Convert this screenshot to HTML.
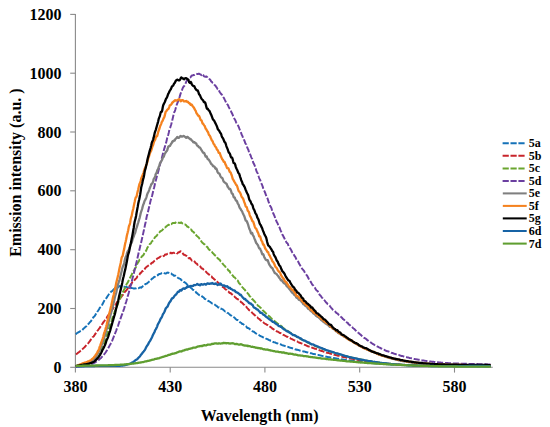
<!DOCTYPE html>
<html><head><meta charset="utf-8"><title>Emission spectra</title>
<style>html,body{margin:0;padding:0;background:#fff;overflow:hidden}body{width:550px;height:427px;position:relative}</style></head>
<body>
<svg width="550" height="427" viewBox="0 0 550 427" style="position:absolute;left:0;top:0">
<rect width="550" height="427" fill="#fff"/>
<g stroke="#8a8a8a" stroke-width="1.1" fill="none">
<line x1="75.4" y1="13.9" x2="75.4" y2="372.6"/>
<line x1="70.2" y1="367.3" x2="75.4" y2="367.3"/>
<line x1="70.2" y1="308.5" x2="75.4" y2="308.5"/>
<line x1="70.2" y1="249.7" x2="75.4" y2="249.7"/>
<line x1="70.2" y1="190.8" x2="75.4" y2="190.8"/>
<line x1="70.2" y1="132.0" x2="75.4" y2="132.0"/>
<line x1="70.2" y1="73.2" x2="75.4" y2="73.2"/>
<line x1="70.2" y1="14.4" x2="75.4" y2="14.4"/>
<line x1="75.4" y1="367.3" x2="492.8" y2="367.3"/>
<line x1="170.2" y1="367.3" x2="170.2" y2="372.6"/>
<line x1="264.9" y1="367.3" x2="264.9" y2="372.6"/>
<line x1="359.7" y1="367.3" x2="359.7" y2="372.6"/>
<line x1="454.5" y1="367.3" x2="454.5" y2="372.6"/>
</g>
<path d="M75.7,334.21 L76.2,333.87 L76.7,333.37 L77.2,332.93 L77.7,332.71 L78.2,332.51 L78.7,332.20 L79.2,331.88 L79.7,331.56 L80.2,331.16 L80.7,330.82 L81.2,330.68 L81.7,330.50 L82.2,330.12 L82.7,329.55 L83.2,328.97 L83.7,328.44 L84.2,328.03 L84.7,327.70 L85.2,327.13 L85.7,326.56 L86.2,326.30 L86.7,326.00 L87.2,325.34 L87.7,324.57 L88.2,324.07 L88.7,323.65 L89.2,323.02 L89.7,322.33 L90.2,321.83 L90.7,321.48 L91.2,320.87 L91.7,319.90 L92.2,319.09 L92.7,318.32 L93.2,317.50 L93.7,316.91 L94.2,316.48 L94.7,316.00 L95.2,315.14 L95.7,314.26 L96.2,313.69 L96.7,312.86 L97.2,311.89 L97.7,311.20 L98.2,310.50 L98.7,309.74 L99.2,308.89 L99.7,307.95 L100.2,307.40 L100.7,306.98 L101.2,306.28 L101.7,305.51 L102.2,304.77 L102.7,303.80 L103.2,302.73 L103.7,301.81 L104.2,300.82 L104.7,299.89 L105.2,299.27 L105.7,298.97 L106.2,298.41 L106.7,297.60 L107.2,296.88 L107.7,295.97 L108.2,295.21 L108.7,294.51 L109.2,293.77 L109.7,293.48 L110.2,293.04 L110.7,292.22 L111.2,291.66 L111.7,291.32 L112.2,290.99 L112.7,290.50 L113.2,289.98 L113.7,289.56 L114.2,288.95 L114.7,288.53 L115.2,288.35 L115.7,287.96 L116.2,287.80 L116.7,287.68 L117.2,287.33 L117.7,287.32 L118.2,287.37 L118.7,287.01 L119.2,286.38 L119.7,285.97 L120.2,286.15 L120.7,286.40 L121.2,286.38 L121.7,286.42 L122.2,286.55 L122.7,286.56 L123.2,286.66 L123.7,286.75 L124.2,286.62 L124.7,286.89 L125.2,287.40 L125.7,287.23 L126.2,286.84 L126.7,287.02 L127.2,287.45 L127.7,287.63 L128.2,287.49 L128.7,287.31 L129.2,287.43 L129.7,287.76 L130.2,287.84 L130.7,287.75 L131.2,287.80 L131.7,287.98 L132.2,288.12 L132.7,288.14 L133.2,288.33 L133.7,288.55 L134.2,288.41 L134.7,288.35 L135.2,288.47 L135.7,288.39 L136.2,288.27 L136.7,288.01 L137.2,287.84 L137.7,288.10 L138.2,288.20 L138.7,288.07 L139.2,287.88 L139.7,287.57 L140.2,287.35 L140.7,287.50 L141.2,287.68 L141.7,287.28 L142.2,286.73 L142.7,286.43 L143.2,286.02 L143.7,285.73 L144.2,285.52 L144.7,284.88 L145.2,284.19 L145.7,283.95 L146.2,283.85 L146.7,283.68 L147.2,283.30 L147.7,282.72 L148.2,282.36 L148.7,281.95 L149.2,281.46 L149.7,281.14 L150.2,280.58 L150.7,280.01 L151.2,279.60 L151.7,279.02 L152.2,278.62 L152.7,278.38 L153.2,277.93 L153.7,277.40 L154.2,277.03 L154.7,276.84 L155.2,276.53 L155.7,276.01 L156.2,275.65 L156.7,275.25 L157.2,275.15 L157.7,275.37 L158.2,274.78 L158.7,274.23 L159.2,274.24 L159.7,273.98 L160.2,273.90 L160.7,273.85 L161.2,273.43 L161.7,273.17 L162.2,273.11 L162.7,272.92 L163.2,272.58 L163.7,272.56 L164.2,272.97 L164.7,273.31 L165.2,273.47 L165.7,273.56 L166.2,273.32 L166.7,272.99 L167.2,272.75 L167.7,272.54 L168.2,272.64 L168.7,273.00 L169.2,273.45 L169.7,273.68 L170.2,273.57 L170.7,273.45 L171.2,273.55 L171.7,274.00 L172.2,274.47 L172.7,274.62 L173.2,274.90 L173.7,275.54 L174.2,275.77 L174.7,275.57 L175.2,275.60 L175.7,275.92 L176.2,276.32 L176.7,276.69 L177.2,277.12 L177.7,277.62 L178.2,278.09 L178.7,278.28 L179.2,278.36 L179.7,278.59 L180.2,278.79 L180.7,279.30 L181.2,279.94 L181.7,280.34 L182.2,280.74 L182.7,280.94 L183.2,281.29 L183.7,281.82 L184.2,282.12 L184.7,282.41 L185.2,282.69 L185.7,283.02 L186.2,283.42 L186.7,284.02 L187.2,284.69 L187.7,285.17 L188.2,285.33 L188.7,285.30 L189.2,285.90 L189.7,286.64 L190.2,287.10 L190.7,287.68 L191.2,288.07 L191.7,288.33 L192.2,289.06 L192.7,289.79 L193.2,289.94 L193.7,290.03 L194.2,290.36 L194.7,290.68 L195.2,290.97 L195.7,291.74 L196.2,292.67 L196.7,293.02 L197.2,293.24 L197.7,293.77 L198.2,294.23 L198.7,294.59 L199.2,295.04 L199.7,295.28 L200.2,295.53 L200.7,295.71 L201.2,295.60 L201.7,296.00 L202.2,296.58 L202.7,296.87 L203.2,297.20 L203.7,297.53 L204.2,298.15 L204.7,298.93 L205.2,299.13 L205.7,299.26 L206.2,299.64 L206.7,299.91 L207.2,300.26 L207.7,300.70 L208.2,300.93 L208.7,301.00 L209.2,301.38 L209.7,301.66 L210.2,301.89 L210.7,302.31 L211.2,302.70 L211.7,303.19 L212.2,303.54 L212.7,303.72 L213.2,304.01 L213.7,304.16 L214.2,304.21 L214.7,304.55 L215.2,304.99 L215.7,305.36 L216.2,305.75 L216.7,306.01 L217.2,306.36 L217.7,307.05 L218.2,307.45 L218.7,307.37 L219.2,307.52 L219.7,307.98 L220.2,308.54 L220.7,308.78 L221.2,308.66 L221.7,308.77 L222.2,309.06 L222.7,309.29 L223.2,309.69 L223.7,310.17 L224.2,310.63 L224.7,311.23 L225.2,311.52 L225.7,311.48 L226.2,311.69 L226.7,312.26 L227.2,312.78 L227.7,312.87 L228.2,313.05 L228.7,313.62 L229.2,314.07 L229.7,314.48 L230.2,315.00 L230.7,315.34 L231.2,315.53 L231.7,315.77 L232.2,316.15 L232.7,316.40 L233.2,316.63 L233.7,317.07 L234.2,317.46 L234.7,317.84 L235.2,318.39 L235.7,319.05 L236.2,319.47 L236.7,319.81 L237.2,320.07 L237.7,320.05 L238.2,320.27 L238.7,320.96 L239.2,321.59 L239.7,321.99 L240.2,322.42 L240.7,322.70 L241.2,322.87 L241.7,323.44 L242.2,324.00 L242.7,324.04 L243.2,324.17 L243.7,324.67 L244.2,325.19 L244.7,325.58 L245.2,325.90 L245.7,326.16 L246.2,326.49 L246.7,327.15 L247.2,327.79 L247.7,327.98 L248.2,328.07 L248.7,328.27 L249.2,328.53 L249.7,329.07 L250.2,329.52 L250.7,329.81 L251.2,330.24 L251.7,330.69 L252.2,331.06 L252.7,331.35 L253.2,331.51 L253.7,331.63 L254.2,331.95 L254.7,332.44 L255.2,332.87 L255.7,333.27 L256.2,333.60 L256.7,333.75 L257.2,334.01 L257.7,334.37 L258.2,334.67 L258.7,334.95 L259.2,335.26 L259.7,335.60 L260.2,335.87 L260.7,336.14 L261.2,336.44 L261.7,336.65 L262.2,336.78 L262.7,337.04 L263.2,337.33 L263.7,337.65 L264.2,337.90 L264.7,337.95 L265.2,338.06 L265.7,338.39 L266.2,338.66 L266.7,338.84 L267.2,339.09 L267.7,339.28 L268.2,339.49 L268.7,339.83 L269.2,340.11 L269.7,340.27 L270.2,340.47 L270.7,340.72 L271.2,340.81 L271.7,340.88 L272.2,341.21 L272.7,341.62 L273.2,341.98 L273.7,342.24 L274.2,342.33 L274.7,342.35 L275.2,342.47 L275.7,342.74 L276.2,343.05 L276.7,343.22 L277.2,343.28 L277.7,343.49 L278.2,343.82 L278.7,344.04 L279.2,344.09 L279.7,344.12 L280.2,344.26 L280.7,344.44 L281.2,344.67 L281.7,344.96 L282.2,345.20 L282.7,345.37 L283.2,345.49 L283.7,345.58 L284.2,345.71 L284.7,345.87 L285.2,346.08 L285.7,346.31 L286.2,346.34 L286.7,346.37 L287.2,346.57 L287.7,346.72 L288.2,346.83 L288.7,347.08 L289.2,347.43 L289.7,347.63 L290.2,347.70 L290.7,347.89 L291.2,348.03 L291.7,348.05 L292.2,348.20 L292.7,348.40 L293.2,348.50 L293.7,348.57 L294.2,348.80 L294.7,349.10 L295.2,349.34 L295.7,349.45 L296.2,349.54 L296.7,349.72 L297.2,349.78 L297.7,349.81 L298.2,349.99 L298.7,350.16 L299.2,350.30 L299.7,350.47 L300.2,350.65 L300.7,350.74 L301.2,350.85 L301.7,351.03 L302.2,351.14 L302.7,351.26 L303.2,351.43 L303.7,351.50 L304.2,351.56 L304.7,351.66 L305.2,351.77 L305.7,352.00 L306.2,352.22 L306.7,352.28 L307.2,352.34 L307.7,352.44 L308.2,352.63 L308.7,352.88 L309.2,352.99 L309.7,353.02 L310.2,353.11 L310.7,353.20 L311.2,353.29 L311.7,353.41 L312.2,353.56 L312.7,353.76 L313.2,353.92 L313.7,354.02 L314.2,354.06 L314.7,354.13 L315.2,354.26 L315.7,354.41 L316.2,354.59 L316.7,354.74 L317.2,354.83 L317.7,354.84 L318.2,354.92 L318.7,355.14 L319.2,355.27 L319.7,355.28 L320.2,355.43 L320.7,355.58 L321.2,355.66 L321.7,355.80 L322.2,355.85 L322.7,355.93 L323.2,356.11 L323.7,356.19 L324.2,356.26 L324.7,356.34 L325.2,356.43 L325.7,356.58 L326.2,356.67 L326.7,356.74 L327.2,356.85 L327.7,356.98 L328.2,357.08 L328.7,357.14 L329.2,357.25 L329.7,357.32 L330.2,357.38 L330.7,357.47 L331.2,357.54 L331.7,357.66 L332.2,357.81 L332.7,357.92 L333.2,358.02 L333.7,358.08 L334.2,358.07 L334.7,358.11 L335.2,358.25 L335.7,358.40 L336.2,358.47 L336.7,358.56 L337.2,358.64 L337.7,358.66 L338.2,358.74 L338.7,358.93 L339.2,359.08 L339.7,359.10 L340.2,359.12 L340.7,359.24 L341.2,359.36 L341.7,359.42 L342.2,359.44 L342.7,359.50 L343.2,359.61 L343.7,359.73 L344.2,359.86 L344.7,359.93 L345.2,359.91 L345.7,359.95 L346.2,360.04 L346.7,360.13 L347.2,360.22 L347.7,360.30 L348.2,360.38 L348.7,360.46 L349.2,360.48 L349.7,360.48 L350.2,360.53 L350.7,360.61 L351.2,360.67 L351.7,360.75 L352.2,360.87 L352.7,360.95 L353.2,360.99 L353.7,361.02 L354.2,361.06 L354.7,361.18 L355.2,361.27 L355.7,361.29 L356.2,361.37 L356.7,361.47 L357.2,361.52 L357.7,361.57 L358.2,361.63 L358.7,361.67 L359.2,361.76 L359.7,361.83 L360.2,361.83 L360.7,361.88 L361.2,361.97 L361.7,362.07 L362.2,362.13 L362.7,362.16 L363.2,362.16 L363.7,362.20 L364.2,362.29 L364.7,362.34 L365.2,362.37 L365.7,362.44 L366.2,362.52 L366.7,362.56 L367.2,362.59 L367.7,362.63 L368.2,362.67 L368.7,362.72 L369.2,362.80 L369.7,362.91 L370.2,362.98 L370.7,362.98 L371.2,363.00 L371.7,363.04 L372.2,363.06 L372.7,363.10 L373.2,363.16 L373.7,363.24 L374.2,363.30 L374.7,363.30 L375.2,363.33 L375.7,363.40 L376.2,363.43 L376.7,363.46 L377.2,363.49 L377.7,363.51 L378.2,363.57 L378.7,363.64 L379.2,363.67 L379.7,363.69 L380.2,363.72 L380.7,363.77 L381.2,363.81 L381.7,363.84 L382.2,363.87 L382.7,363.93 L383.2,363.98 L383.7,364.00 L384.2,364.04 L384.7,364.09 L385.2,364.12 L385.7,364.13 L386.2,364.14 L386.7,364.17 L387.2,364.22 L387.7,364.26 L388.2,364.29 L388.7,364.31 L389.2,364.33 L389.7,364.37 L390.2,364.41 L390.7,364.43 L391.2,364.46 L391.7,364.48 L392.2,364.50 L392.7,364.54 L393.2,364.59 L393.7,364.61 L394.2,364.62 L394.7,364.64 L395.2,364.67 L395.7,364.72 L396.2,364.74 L396.7,364.74 L397.2,364.76 L397.7,364.79 L398.2,364.81 L398.7,364.83 L399.2,364.87 L399.7,364.90 L400.2,364.91 L400.7,364.94 L401.2,364.98 L401.7,365.00 L402.2,365.02 L402.7,365.06 L403.2,365.07 L403.7,365.07 L404.2,365.10 L404.7,365.11 L405.2,365.13 L405.7,365.15 L406.2,365.17 L406.7,365.20 L407.2,365.22 L407.7,365.24 L408.2,365.25 L408.7,365.27 L409.2,365.28 L409.7,365.29 L410.2,365.32 L410.7,365.34 L411.2,365.36 L411.7,365.39 L412.2,365.41 L412.7,365.42 L413.2,365.42 L413.7,365.44 L414.2,365.45 L414.7,365.46 L415.2,365.48 L415.7,365.48 L416.2,365.48 L416.7,365.50 L417.2,365.52 L417.7,365.54 L418.2,365.56 L418.7,365.57 L419.2,365.58 L419.7,365.59 L420.2,365.59 L420.7,365.61 L421.2,365.63 L421.7,365.63 L422.2,365.64 L422.7,365.65 L423.2,365.67 L423.7,365.68 L424.2,365.69 L424.7,365.70 L425.2,365.71 L425.7,365.72 L426.2,365.72 L426.7,365.73 L427.2,365.75 L427.7,365.76 L428.2,365.77 L428.7,365.78 L429.2,365.79 L429.7,365.79 L430.2,365.80 L430.7,365.81 L431.2,365.82 L431.7,365.83 L432.2,365.83 L432.7,365.84 L433.2,365.85 L433.7,365.85 L434.2,365.86 L434.7,365.87 L435.2,365.87 L435.7,365.88 L436.2,365.89 L436.7,365.89 L437.2,365.90 L437.7,365.91 L438.2,365.91 L438.7,365.91 L439.2,365.92 L439.7,365.92 L440.2,365.93 L440.7,365.94 L441.2,365.94 L441.7,365.94 L442.2,365.95 L442.7,365.95 L443.2,365.96 L443.7,365.96 L444.2,365.97 L444.7,365.97 L445.2,365.98 L445.7,365.98 L446.2,365.98 L446.7,365.99 L447.2,365.99 L447.7,365.99 L448.2,366.00 L448.7,366.00 L449.2,366.01 L449.7,366.01 L450.2,366.01 L450.7,366.01 L451.2,366.02 L451.7,366.02 L452.2,366.02 L452.7,366.03 L453.2,366.03 L453.7,366.03 L454.2,366.04 L454.7,366.04 L455.2,366.04 L455.7,366.04 L456.2,366.05 L456.7,366.05 L457.2,366.05 L457.7,366.05 L458.2,366.06 L458.7,366.06 L459.2,366.06 L459.7,366.06 L460.2,366.07 L460.7,366.07 L461.2,366.07 L461.7,366.07 L462.2,366.07 L462.7,366.08 L463.2,366.08 L463.7,366.08 L464.2,366.08 L464.7,366.09 L465.2,366.09 L465.7,366.09 L466.2,366.09 L466.7,366.09 L467.2,366.10 L467.7,366.10 L468.2,366.10 L468.7,366.10 L469.2,366.11 L469.7,366.11 L470.2,366.11 L470.7,366.11 L471.2,366.12 L471.7,366.12 L472.2,366.12 L472.7,366.12 L473.2,366.13 L473.7,366.13 L474.2,366.13 L474.7,366.13 L475.2,366.14 L475.7,366.14 L476.2,366.14 L476.7,366.15 L477.2,366.15 L477.7,366.15 L478.2,366.16 L478.7,366.16 L479.2,366.16 L479.7,366.17 L480.2,366.17 L480.7,366.17 L481.2,366.18 L481.7,366.18 L482.2,366.19 L482.7,366.19 L483.2,366.19 L483.7,366.20 L484.2,366.20 L484.7,366.21 L485.2,366.21 L485.7,366.22 L486.2,366.22 L486.7,366.22 L487.2,366.23 L487.7,366.23 L488.2,366.24 L488.7,366.24 L489.2,366.25 L489.7,366.26 L490.2,366.26 L490.7,366.27" fill="none" stroke="#1572b8" stroke-width="1.95" stroke-linejoin="round" stroke-dasharray="6.1 1.8"/>
<path d="M76.0,354.38 L76.5,354.02 L77.0,353.64 L77.5,353.29 L78.0,352.87 L78.5,352.41 L79.0,352.08 L79.5,351.78 L80.0,351.35 L80.5,350.88 L81.0,350.50 L81.5,350.09 L82.0,349.65 L82.5,349.14 L83.0,348.61 L83.5,348.15 L84.0,347.71 L84.5,347.30 L85.0,346.78 L85.5,346.12 L86.0,345.50 L86.5,344.99 L87.0,344.42 L87.5,343.88 L88.0,343.46 L88.5,342.92 L89.0,342.23 L89.5,341.54 L90.0,340.91 L90.5,340.16 L91.0,339.50 L91.5,338.99 L92.0,338.23 L92.5,337.36 L93.0,336.80 L93.5,336.47 L94.0,335.98 L94.5,335.18 L95.0,334.36 L95.5,333.61 L96.0,332.85 L96.5,332.13 L97.0,331.38 L97.5,330.72 L98.0,330.14 L98.5,329.47 L99.0,328.78 L99.5,328.10 L100.0,327.37 L100.5,326.70 L101.0,325.87 L101.5,324.92 L102.0,324.27 L102.5,323.62 L103.0,322.85 L103.5,322.09 L104.0,321.34 L104.5,320.78 L105.0,320.18 L105.5,319.58 L106.0,319.01 L106.5,318.11 L107.0,317.12 L107.5,316.32 L108.0,315.59 L108.5,314.93 L109.0,314.30 L109.5,313.51 L110.0,312.91 L110.5,312.49 L111.0,311.71 L111.5,310.86 L112.0,310.14 L112.5,309.35 L113.0,308.59 L113.5,307.73 L114.0,306.91 L114.5,306.39 L115.0,305.78 L115.5,304.82 L116.0,303.91 L116.5,303.07 L117.0,302.24 L117.5,301.65 L118.0,301.32 L118.5,300.92 L119.0,299.94 L119.5,299.04 L120.0,298.62 L120.5,297.99 L121.0,297.26 L121.5,296.63 L122.0,295.92 L122.5,295.26 L123.0,294.75 L123.5,294.03 L124.0,293.15 L124.5,292.37 L125.0,291.71 L125.5,291.27 L126.0,290.83 L126.5,290.20 L127.0,289.46 L127.5,288.84 L128.0,288.30 L128.5,287.49 L129.0,286.68 L129.5,286.04 L130.0,285.43 L130.5,285.03 L131.0,284.70 L131.5,283.75 L132.0,282.64 L132.5,281.97 L133.0,281.54 L133.5,281.40 L134.0,280.98 L134.5,280.15 L135.0,279.51 L135.5,278.93 L136.0,278.56 L136.5,278.13 L137.0,277.13 L137.5,276.35 L138.0,276.12 L138.5,275.77 L139.0,275.28 L139.5,274.64 L140.0,273.59 L140.5,272.90 L141.0,272.77 L141.5,272.16 L142.0,271.28 L142.5,270.96 L143.0,270.91 L143.5,270.47 L144.0,269.96 L144.5,269.43 L145.0,268.59 L145.5,267.84 L146.0,267.35 L146.5,266.96 L147.0,266.59 L147.5,266.21 L148.0,265.86 L148.5,265.45 L149.0,265.14 L149.5,265.05 L150.0,264.93 L150.5,264.47 L151.0,263.73 L151.5,263.07 L152.0,262.70 L152.5,262.68 L153.0,262.35 L153.5,261.67 L154.0,261.24 L154.5,260.79 L155.0,260.38 L155.5,260.07 L156.0,259.79 L156.5,259.41 L157.0,258.72 L157.5,258.38 L158.0,258.20 L158.5,257.91 L159.0,257.62 L159.5,257.22 L160.0,256.91 L160.5,256.62 L161.0,256.59 L161.5,256.91 L162.0,257.05 L162.5,256.81 L163.0,256.36 L163.5,256.07 L164.0,255.88 L164.5,255.30 L165.0,254.64 L165.5,254.37 L166.0,254.57 L166.5,254.59 L167.0,254.12 L167.5,253.79 L168.0,253.66 L168.5,253.51 L169.0,253.22 L169.5,253.23 L170.0,253.30 L170.5,252.79 L171.0,252.70 L171.5,253.19 L172.0,253.31 L172.5,252.99 L173.0,252.79 L173.5,252.78 L174.0,252.86 L174.5,252.92 L175.0,252.62 L175.5,252.37 L176.0,252.53 L176.5,252.93 L177.0,253.40 L177.5,253.41 L178.0,252.76 L178.5,252.11 L179.0,252.18 L179.5,252.29 L180.0,251.58 L180.5,251.24 L181.0,251.48 L181.5,251.65 L182.0,252.26 L182.5,252.97 L183.0,253.65 L183.5,254.53 L184.0,254.76 L184.5,254.64 L185.0,255.10 L185.5,255.47 L186.0,255.70 L186.5,255.84 L187.0,255.86 L187.5,256.15 L188.0,256.81 L188.5,257.86 L189.0,258.37 L189.5,258.03 L190.0,258.08 L190.5,258.72 L191.0,259.30 L191.5,260.04 L192.0,260.70 L192.5,260.77 L193.0,260.51 L193.5,260.53 L194.0,261.02 L194.5,261.52 L195.0,262.07 L195.5,262.87 L196.0,263.34 L196.5,263.47 L197.0,263.86 L197.5,264.60 L198.0,264.93 L198.5,264.90 L199.0,265.39 L199.5,265.91 L200.0,266.23 L200.5,266.77 L201.0,267.60 L201.5,268.31 L202.0,268.45 L202.5,268.45 L203.0,268.88 L203.5,269.54 L204.0,269.93 L204.5,270.45 L205.0,271.09 L205.5,271.43 L206.0,271.71 L206.5,272.29 L207.0,272.91 L207.5,273.30 L208.0,273.72 L208.5,274.15 L209.0,274.52 L209.5,274.96 L210.0,275.51 L210.5,276.15 L211.0,276.35 L211.5,276.38 L212.0,277.08 L212.5,277.85 L213.0,278.12 L213.5,278.53 L214.0,279.04 L214.5,279.30 L215.0,279.83 L215.5,280.55 L216.0,280.90 L216.5,280.92 L217.0,281.41 L217.5,282.18 L218.0,282.50 L218.5,283.12 L219.0,283.87 L219.5,283.75 L220.0,284.03 L220.5,285.17 L221.0,285.69 L221.5,286.04 L222.0,286.61 L222.5,286.85 L223.0,287.14 L223.5,287.39 L224.0,287.69 L224.5,288.30 L225.0,288.91 L225.5,289.43 L226.0,289.68 L226.5,289.78 L227.0,290.31 L227.5,291.04 L228.0,291.33 L228.5,291.62 L229.0,292.24 L229.5,292.77 L230.0,292.97 L230.5,293.00 L231.0,293.37 L231.5,294.07 L232.0,294.44 L232.5,294.48 L233.0,294.83 L233.5,295.48 L234.0,295.95 L234.5,296.45 L235.0,297.14 L235.5,297.47 L236.0,297.89 L236.5,298.52 L237.0,298.81 L237.5,299.02 L238.0,299.35 L238.5,299.68 L239.0,299.99 L239.5,300.49 L240.0,300.95 L240.5,301.42 L241.0,302.10 L241.5,302.43 L242.0,302.67 L242.5,303.26 L243.0,303.81 L243.5,304.28 L244.0,304.69 L244.5,305.20 L245.0,306.00 L245.5,306.53 L246.0,306.65 L246.5,307.04 L247.0,307.76 L247.5,308.39 L248.0,308.83 L248.5,309.40 L249.0,310.06 L249.5,310.43 L250.0,310.67 L250.5,311.07 L251.0,311.62 L251.5,312.10 L252.0,312.52 L252.5,313.10 L253.0,313.65 L253.5,314.00 L254.0,314.44 L254.5,315.07 L255.0,315.49 L255.5,315.68 L256.0,316.19 L256.5,316.90 L257.0,317.23 L257.5,317.49 L258.0,318.13 L258.5,318.69 L259.0,318.86 L259.5,319.11 L260.0,319.73 L260.5,320.29 L261.0,320.58 L261.5,321.02 L262.0,321.53 L262.5,321.82 L263.0,322.11 L263.5,322.52 L264.0,322.94 L264.5,323.34 L265.0,323.67 L265.5,323.84 L266.0,324.08 L266.5,324.58 L267.0,324.86 L267.5,325.02 L268.0,325.53 L268.5,326.02 L269.0,326.17 L269.5,326.29 L270.0,326.67 L270.5,327.12 L271.0,327.39 L271.5,327.66 L272.0,328.20 L272.5,328.71 L273.0,329.00 L273.5,329.23 L274.0,329.56 L274.5,329.96 L275.0,330.21 L275.5,330.41 L276.0,330.76 L276.5,331.17 L277.0,331.50 L277.5,331.66 L278.0,331.77 L278.5,332.06 L279.0,332.44 L279.5,332.81 L280.0,333.01 L280.5,333.06 L281.0,333.28 L281.5,333.70 L282.0,334.18 L282.5,334.51 L283.0,334.74 L283.5,334.95 L284.0,335.15 L284.5,335.43 L285.0,335.70 L285.5,335.93 L286.0,336.22 L286.5,336.59 L287.0,336.78 L287.5,336.82 L288.0,337.07 L288.5,337.46 L289.0,337.67 L289.5,337.76 L290.0,337.99 L290.5,338.44 L291.0,338.79 L291.5,338.90 L292.0,339.07 L292.5,339.37 L293.0,339.63 L293.5,339.88 L294.0,340.10 L294.5,340.33 L295.0,340.60 L295.5,340.85 L296.0,341.09 L296.5,341.25 L297.0,341.40 L297.5,341.67 L298.0,341.98 L298.5,342.26 L299.0,342.54 L299.5,342.72 L300.0,342.80 L300.5,342.98 L301.0,343.22 L301.5,343.39 L302.0,343.59 L302.5,343.81 L303.0,344.12 L303.5,344.46 L304.0,344.65 L304.5,344.79 L305.0,344.91 L305.5,345.07 L306.0,345.28 L306.5,345.58 L307.0,345.94 L307.5,346.17 L308.0,346.27 L308.5,346.37 L309.0,346.53 L309.5,346.77 L310.0,346.94 L310.5,346.98 L311.0,347.13 L311.5,347.39 L312.0,347.62 L312.5,347.79 L313.0,347.97 L313.5,348.08 L314.0,348.29 L314.5,348.65 L315.0,348.81 L315.5,348.80 L316.0,348.88 L316.5,349.14 L317.0,349.42 L317.5,349.58 L318.0,349.71 L318.5,349.98 L319.0,350.17 L319.5,350.23 L320.0,350.36 L320.5,350.58 L321.0,350.81 L321.5,350.95 L322.0,350.99 L322.5,351.14 L323.0,351.39 L323.5,351.57 L324.0,351.71 L324.5,351.88 L325.0,351.99 L325.5,352.06 L326.0,352.24 L326.5,352.54 L327.0,352.76 L327.5,352.85 L328.0,352.92 L328.5,353.02 L329.0,353.16 L329.5,353.31 L330.0,353.46 L330.5,353.64 L331.0,353.85 L331.5,354.04 L332.0,354.15 L332.5,354.26 L333.0,354.38 L333.5,354.59 L334.0,354.76 L334.5,354.75 L335.0,354.83 L335.5,355.04 L336.0,355.17 L336.5,355.27 L337.0,355.42 L337.5,355.58 L338.0,355.73 L338.5,355.82 L339.0,355.85 L339.5,355.91 L340.0,356.01 L340.5,356.20 L341.0,356.38 L341.5,356.46 L342.0,356.62 L342.5,356.81 L343.0,356.95 L343.5,357.07 L344.0,357.19 L344.5,357.27 L345.0,357.30 L345.5,357.41 L346.0,357.60 L346.5,357.70 L347.0,357.74 L347.5,357.86 L348.0,358.02 L348.5,358.13 L349.0,358.18 L349.5,358.25 L350.0,358.35 L350.5,358.45 L351.0,358.57 L351.5,358.67 L352.0,358.74 L352.5,358.84 L353.0,358.96 L353.5,359.06 L354.0,359.22 L354.5,359.31 L355.0,359.35 L355.5,359.45 L356.0,359.55 L356.5,359.64 L357.0,359.72 L357.5,359.79 L358.0,359.87 L358.5,359.97 L359.0,360.09 L359.5,360.21 L360.0,360.26 L360.5,360.29 L361.0,360.37 L361.5,360.46 L362.0,360.57 L362.5,360.71 L363.0,360.79 L363.5,360.81 L364.0,360.84 L364.5,360.97 L365.0,361.08 L365.5,361.10 L366.0,361.10 L366.5,361.16 L367.0,361.28 L367.5,361.40 L368.0,361.45 L368.5,361.51 L369.0,361.61 L369.5,361.70 L370.0,361.73 L370.5,361.78 L371.0,361.88 L371.5,361.94 L372.0,361.95 L372.5,362.03 L373.0,362.17 L373.5,362.23 L374.0,362.25 L374.5,362.27 L375.0,362.33 L375.5,362.43 L376.0,362.52 L376.5,362.55 L377.0,362.59 L377.5,362.70 L378.0,362.79 L378.5,362.81 L379.0,362.82 L379.5,362.86 L380.0,362.93 L380.5,363.02 L381.0,363.08 L381.5,363.09 L382.0,363.12 L382.5,363.19 L383.0,363.24 L383.5,363.27 L384.0,363.32 L384.5,363.38 L385.0,363.44 L385.5,363.50 L386.0,363.56 L386.5,363.59 L387.0,363.63 L387.5,363.67 L388.0,363.71 L388.5,363.74 L389.0,363.77 L389.5,363.82 L390.0,363.89 L390.5,363.94 L391.0,363.97 L391.5,363.99 L392.0,364.03 L392.5,364.08 L393.0,364.12 L393.5,364.16 L394.0,364.21 L394.5,364.23 L395.0,364.26 L395.5,364.31 L396.0,364.35 L396.5,364.39 L397.0,364.43 L397.5,364.45 L398.0,364.46 L398.5,364.49 L399.0,364.54 L399.5,364.57 L400.0,364.59 L400.5,364.63 L401.0,364.68 L401.5,364.69 L402.0,364.69 L402.5,364.72 L403.0,364.75 L403.5,364.78 L404.0,364.82 L404.5,364.84 L405.0,364.87 L405.5,364.90 L406.0,364.92 L406.5,364.94 L407.0,364.97 L407.5,365.00 L408.0,365.02 L408.5,365.05 L409.0,365.07 L409.5,365.10 L410.0,365.12 L410.5,365.13 L411.0,365.15 L411.5,365.17 L412.0,365.19 L412.5,365.21 L413.0,365.22 L413.5,365.23 L414.0,365.25 L414.5,365.28 L415.0,365.30 L415.5,365.32 L416.0,365.33 L416.5,365.34 L417.0,365.35 L417.5,365.36 L418.0,365.38 L418.5,365.40 L419.0,365.41 L419.5,365.44 L420.0,365.45 L420.5,365.44 L421.0,365.46 L421.5,365.48 L422.0,365.49 L422.5,365.48 L423.0,365.50 L423.5,365.53 L424.0,365.56 L424.5,365.57 L425.0,365.58 L425.5,365.60 L426.0,365.60 L426.5,365.60 L427.0,365.60 L427.5,365.61 L428.0,365.63 L428.5,365.64 L429.0,365.65 L429.5,365.66 L430.0,365.66 L430.5,365.67 L431.0,365.67 L431.5,365.68 L432.0,365.69 L432.5,365.70 L433.0,365.71 L433.5,365.72 L434.0,365.72 L434.5,365.73 L435.0,365.74 L435.5,365.74 L436.0,365.74 L436.5,365.75 L437.0,365.76 L437.5,365.77 L438.0,365.77 L438.5,365.77 L439.0,365.78 L439.5,365.78 L440.0,365.78 L440.5,365.79 L441.0,365.79 L441.5,365.80 L442.0,365.80 L442.5,365.81 L443.0,365.81 L443.5,365.81 L444.0,365.81 L444.5,365.82 L445.0,365.82 L445.5,365.82 L446.0,365.82 L446.5,365.83 L447.0,365.83 L447.5,365.83 L448.0,365.83 L448.5,365.84 L449.0,365.84 L449.5,365.84 L450.0,365.85 L450.5,365.85 L451.0,365.84 L451.5,365.85 L452.0,365.86 L452.5,365.86 L453.0,365.86 L453.5,365.85 L454.0,365.86 L454.5,365.86 L455.0,365.86 L455.5,365.86 L456.0,365.86 L456.5,365.87 L457.0,365.87 L457.5,365.87 L458.0,365.87 L458.5,365.87 L459.0,365.88 L459.5,365.88 L460.0,365.88 L460.5,365.88 L461.0,365.89 L461.5,365.89 L462.0,365.89 L462.5,365.89 L463.0,365.89 L463.5,365.90 L464.0,365.90 L464.5,365.90 L465.0,365.90 L465.5,365.90 L466.0,365.91 L466.5,365.91 L467.0,365.91 L467.5,365.91 L468.0,365.92 L468.5,365.92 L469.0,365.92 L469.5,365.92 L470.0,365.93 L470.5,365.93 L471.0,365.94 L471.5,365.94 L472.0,365.95 L472.5,365.95 L473.0,365.95 L473.5,365.96 L474.0,365.96 L474.5,365.96 L475.0,365.97 L475.5,365.97 L476.0,365.98 L476.5,365.98 L477.0,365.99 L477.5,365.99 L478.0,366.00 L478.5,366.00 L479.0,366.01 L479.5,366.02 L480.0,366.02 L480.5,366.03 L481.0,366.04 L481.5,366.04 L482.0,366.05 L482.5,366.06 L483.0,366.07 L483.5,366.07 L484.0,366.08 L484.5,366.09 L485.0,366.10 L485.5,366.11 L486.0,366.12 L486.5,366.12 L487.0,366.13 L487.5,366.14 L488.0,366.15 L488.5,366.16 L489.0,366.17 L489.5,366.19 L490.0,366.20 L490.5,366.21 L491.0,366.22" fill="none" stroke="#c8242b" stroke-width="1.95" stroke-linejoin="round" stroke-dasharray="6.1 1.8"/>
<path d="M75.7,366.13 L76.2,366.06 L76.7,365.98 L77.2,365.91 L77.7,365.84 L78.2,365.77 L78.7,365.69 L79.2,365.62 L79.7,365.56 L80.2,365.50 L80.7,365.43 L81.2,365.38 L81.7,365.33 L82.2,365.27 L82.7,365.21 L83.2,365.17 L83.7,365.15 L84.2,365.11 L84.7,365.06 L85.2,365.02 L85.7,364.98 L86.2,364.93 L86.7,364.88 L87.2,364.84 L87.7,364.79 L88.2,364.71 L88.7,364.61 L89.2,364.49 L89.7,364.36 L90.2,364.21 L90.7,364.04 L91.2,363.82 L91.7,363.59 L92.2,363.33 L92.7,363.04 L93.2,362.71 L93.7,362.36 L94.2,361.96 L94.7,361.50 L95.2,361.01 L95.7,360.43 L96.2,359.80 L96.7,359.18 L97.2,358.49 L97.7,357.76 L98.2,356.99 L98.7,356.12 L99.2,355.12 L99.7,354.06 L100.2,353.04 L100.7,352.00 L101.2,350.76 L101.7,349.42 L102.2,348.15 L102.7,346.95 L103.2,345.71 L103.7,344.41 L104.2,343.10 L104.7,341.61 L105.2,340.00 L105.7,338.52 L106.2,337.07 L106.7,335.48 L107.2,333.89 L107.7,332.45 L108.2,331.00 L108.7,329.49 L109.2,327.68 L109.7,325.93 L110.2,324.51 L110.7,323.10 L111.2,321.90 L111.7,320.53 L112.2,318.69 L112.7,316.93 L113.2,315.58 L113.7,314.42 L114.2,313.02 L114.7,311.53 L115.2,310.41 L115.7,309.38 L116.2,308.03 L116.7,306.68 L117.2,305.49 L117.7,304.31 L118.2,302.96 L118.7,301.49 L119.2,300.18 L119.7,298.96 L120.2,297.95 L120.7,297.02 L121.2,295.80 L121.7,294.56 L122.2,293.39 L122.7,292.41 L123.2,291.51 L123.7,290.34 L124.2,289.26 L124.7,288.43 L125.2,287.54 L125.7,286.52 L126.2,285.20 L126.7,283.97 L127.2,283.27 L127.7,282.58 L128.2,281.49 L128.7,280.53 L129.2,279.69 L129.7,278.48 L130.2,277.46 L130.7,276.51 L131.2,275.51 L131.7,274.68 L132.2,273.40 L132.7,271.98 L133.2,271.28 L133.7,271.11 L134.2,270.38 L134.7,268.96 L135.2,268.14 L135.7,267.69 L136.2,266.65 L136.7,265.28 L137.2,263.96 L137.7,262.99 L138.2,262.39 L138.7,261.51 L139.2,260.29 L139.7,259.59 L140.2,259.25 L140.7,258.44 L141.2,257.47 L141.7,256.63 L142.2,255.98 L142.7,255.68 L143.2,255.36 L143.7,254.59 L144.2,253.49 L144.7,252.62 L145.2,252.08 L145.7,251.44 L146.2,250.61 L146.7,249.48 L147.2,248.03 L147.7,247.09 L148.2,246.78 L148.7,246.13 L149.2,245.16 L149.7,244.15 L150.2,243.59 L150.7,243.48 L151.2,242.69 L151.7,241.64 L152.2,241.15 L152.7,240.70 L153.2,240.34 L153.7,239.90 L154.2,238.68 L154.7,237.56 L155.2,237.04 L155.7,236.60 L156.2,236.20 L156.7,235.71 L157.2,234.99 L157.7,234.32 L158.2,233.79 L158.7,233.27 L159.2,232.78 L159.7,232.06 L160.2,231.43 L160.7,231.10 L161.2,230.81 L161.7,230.64 L162.2,230.20 L162.7,229.56 L163.2,229.00 L163.7,228.15 L164.2,227.56 L164.7,227.57 L165.2,227.37 L165.7,226.99 L166.2,226.49 L166.7,226.05 L167.2,225.65 L167.7,225.21 L168.2,225.13 L168.7,225.02 L169.2,224.46 L169.7,223.93 L170.2,223.87 L170.7,224.10 L171.2,224.22 L171.7,223.98 L172.2,223.40 L172.7,223.06 L173.2,223.14 L173.7,222.98 L174.2,222.82 L174.7,222.97 L175.2,222.95 L175.7,222.56 L176.2,222.10 L176.7,221.83 L177.2,221.85 L177.7,222.21 L178.2,222.59 L178.7,222.76 L179.2,222.66 L179.7,222.83 L180.2,223.10 L180.7,222.63 L181.2,222.34 L181.7,222.83 L182.2,223.31 L182.7,223.41 L183.2,223.39 L183.7,223.80 L184.2,224.41 L184.7,224.41 L185.2,224.42 L185.7,224.87 L186.2,225.24 L186.7,225.90 L187.2,226.56 L187.7,226.74 L188.2,226.97 L188.7,227.40 L189.2,228.00 L189.7,228.74 L190.2,229.15 L190.7,229.26 L191.2,229.58 L191.7,230.37 L192.2,231.15 L192.7,231.56 L193.2,231.70 L193.7,232.14 L194.2,232.89 L194.7,233.16 L195.2,233.54 L195.7,234.44 L196.2,235.25 L196.7,235.75 L197.2,236.15 L197.7,236.67 L198.2,237.04 L198.7,237.43 L199.2,238.19 L199.7,238.99 L200.2,239.72 L200.7,240.42 L201.2,241.16 L201.7,241.81 L202.2,242.41 L202.7,242.99 L203.2,243.30 L203.7,243.73 L204.2,244.25 L204.7,244.47 L205.2,245.06 L205.7,245.81 L206.2,246.28 L206.7,246.71 L207.2,246.98 L207.7,247.52 L208.2,248.42 L208.7,249.21 L209.2,249.71 L209.7,250.00 L210.2,250.49 L210.7,251.14 L211.2,251.41 L211.7,251.53 L212.2,252.29 L212.7,253.10 L213.2,253.42 L213.7,253.94 L214.2,254.63 L214.7,255.16 L215.2,255.51 L215.7,255.74 L216.2,256.09 L216.7,257.02 L217.2,257.77 L217.7,258.12 L218.2,258.78 L218.7,259.25 L219.2,259.35 L219.7,259.77 L220.2,260.71 L220.7,261.29 L221.2,261.57 L221.7,262.01 L222.2,262.81 L222.7,263.73 L223.2,264.32 L223.7,264.88 L224.2,265.41 L224.7,265.86 L225.2,266.39 L225.7,267.36 L226.2,268.34 L226.7,268.68 L227.2,268.85 L227.7,269.35 L228.2,270.22 L228.7,270.70 L229.2,270.62 L229.7,271.34 L230.2,272.61 L230.7,273.18 L231.2,273.56 L231.7,274.28 L232.2,275.03 L232.7,275.50 L233.2,276.09 L233.7,276.87 L234.2,277.16 L234.7,277.36 L235.2,278.00 L235.7,278.71 L236.2,279.34 L236.7,280.02 L237.2,280.37 L237.7,280.51 L238.2,281.48 L238.7,282.72 L239.2,283.30 L239.7,283.60 L240.2,284.29 L240.7,285.14 L241.2,285.61 L241.7,286.27 L242.2,287.13 L242.7,287.63 L243.2,288.15 L243.7,288.73 L244.2,289.18 L244.7,289.61 L245.2,290.35 L245.7,291.15 L246.2,291.63 L246.7,292.13 L247.2,292.67 L247.7,293.34 L248.2,293.91 L248.7,294.49 L249.2,295.34 L249.7,296.08 L250.2,296.60 L250.7,297.09 L251.2,297.96 L251.7,298.78 L252.2,299.00 L252.7,299.32 L253.2,299.99 L253.7,300.57 L254.2,301.04 L254.7,301.55 L255.2,302.12 L255.7,302.74 L256.2,303.19 L256.7,303.73 L257.2,304.44 L257.7,305.21 L258.2,305.90 L258.7,306.12 L259.2,306.32 L259.7,306.92 L260.2,307.52 L260.7,307.88 L261.2,308.46 L261.7,309.17 L262.2,309.66 L262.7,310.27 L263.2,310.67 L263.7,311.07 L264.2,311.76 L264.7,312.10 L265.2,312.39 L265.7,313.08 L266.2,313.79 L266.7,314.27 L267.2,314.79 L267.7,315.29 L268.2,315.59 L268.7,315.91 L269.2,316.19 L269.7,316.51 L270.2,317.20 L270.7,317.76 L271.2,318.06 L271.7,318.63 L272.2,319.05 L272.7,319.30 L273.2,319.91 L273.7,320.49 L274.2,320.79 L274.7,321.26 L275.2,321.68 L275.7,321.94 L276.2,322.41 L276.7,322.84 L277.2,323.18 L277.7,323.60 L278.2,323.92 L278.7,324.17 L279.2,324.57 L279.7,325.07 L280.2,325.45 L280.7,325.72 L281.2,326.00 L281.7,326.35 L282.2,326.89 L282.7,327.39 L283.2,327.81 L283.7,328.30 L284.2,328.65 L284.7,328.83 L285.2,329.19 L285.7,329.64 L286.2,329.89 L286.7,330.35 L287.2,330.84 L287.7,330.99 L288.2,331.19 L288.7,331.64 L289.2,332.15 L289.7,332.54 L290.2,332.71 L290.7,332.82 L291.2,333.14 L291.7,333.50 L292.2,333.76 L292.7,334.25 L293.2,334.71 L293.7,334.91 L294.2,335.17 L294.7,335.39 L295.2,335.66 L295.7,335.94 L296.2,336.18 L296.7,336.62 L297.2,337.11 L297.7,337.41 L298.2,337.58 L298.7,337.74 L299.2,338.03 L299.7,338.41 L300.2,338.78 L300.7,339.03 L301.2,339.23 L301.7,339.56 L302.2,339.76 L302.7,339.89 L303.2,340.11 L303.7,340.43 L304.2,340.68 L304.7,340.88 L305.2,341.20 L305.7,341.51 L306.2,341.78 L306.7,342.03 L307.2,342.26 L307.7,342.54 L308.2,342.80 L308.7,342.94 L309.2,343.09 L309.7,343.40 L310.2,343.74 L310.7,343.96 L311.2,344.16 L311.7,344.41 L312.2,344.64 L312.7,344.93 L313.2,345.13 L313.7,345.33 L314.2,345.59 L314.7,345.69 L315.2,345.87 L315.7,346.16 L316.2,346.40 L316.7,346.62 L317.2,346.85 L317.7,347.03 L318.2,347.15 L318.7,347.28 L319.2,347.53 L319.7,347.77 L320.2,347.90 L320.7,348.03 L321.2,348.16 L321.7,348.34 L322.2,348.62 L322.7,348.87 L323.2,348.99 L323.7,349.22 L324.2,349.52 L324.7,349.73 L325.2,349.93 L325.7,350.11 L326.2,350.27 L326.7,350.41 L327.2,350.54 L327.7,350.62 L328.2,350.74 L328.7,351.02 L329.2,351.26 L329.7,351.31 L330.2,351.42 L330.7,351.69 L331.2,351.96 L331.7,352.07 L332.2,352.12 L332.7,352.28 L333.2,352.46 L333.7,352.56 L334.2,352.69 L334.7,352.92 L335.2,353.10 L335.7,353.24 L336.2,353.36 L336.7,353.49 L337.2,353.67 L337.7,353.80 L338.2,353.94 L338.7,354.13 L339.2,354.25 L339.7,354.39 L340.2,354.56 L340.7,354.67 L341.2,354.82 L341.7,355.02 L342.2,355.19 L342.7,355.36 L343.2,355.48 L343.7,355.52 L344.2,355.63 L344.7,355.85 L345.2,355.99 L345.7,356.05 L346.2,356.16 L346.7,356.23 L347.2,356.33 L347.7,356.54 L348.2,356.68 L348.7,356.82 L349.2,357.00 L349.7,357.10 L350.2,357.10 L350.7,357.13 L351.2,357.25 L351.7,357.43 L352.2,357.58 L352.7,357.72 L353.2,357.82 L353.7,357.90 L354.2,357.98 L354.7,358.11 L355.2,358.28 L355.7,358.39 L356.2,358.49 L356.7,358.58 L357.2,358.70 L357.7,358.83 L358.2,358.89 L358.7,359.02 L359.2,359.19 L359.7,359.26 L360.2,359.33 L360.7,359.41 L361.2,359.51 L361.7,359.65 L362.2,359.75 L362.7,359.78 L363.2,359.83 L363.7,359.98 L364.2,360.13 L364.7,360.20 L365.2,360.29 L365.7,360.41 L366.2,360.49 L366.7,360.58 L367.2,360.69 L367.7,360.75 L368.2,360.78 L368.7,360.87 L369.2,360.93 L369.7,360.99 L370.2,361.09 L370.7,361.17 L371.2,361.23 L371.7,361.29 L372.2,361.39 L372.7,361.52 L373.2,361.61 L373.7,361.67 L374.2,361.73 L374.7,361.83 L375.2,361.95 L375.7,362.00 L376.2,362.09 L376.7,362.17 L377.2,362.17 L377.7,362.20 L378.2,362.30 L378.7,362.39 L379.2,362.46 L379.7,362.54 L380.2,362.60 L380.7,362.65 L381.2,362.72 L381.7,362.80 L382.2,362.88 L382.7,362.98 L383.2,363.06 L383.7,363.11 L384.2,363.14 L384.7,363.19 L385.2,363.24 L385.7,363.27 L386.2,363.33 L386.7,363.44 L387.2,363.51 L387.7,363.53 L388.2,363.57 L388.7,363.63 L389.2,363.71 L389.7,363.76 L390.2,363.78 L390.7,363.82 L391.2,363.88 L391.7,363.94 L392.2,364.01 L392.7,364.06 L393.2,364.08 L393.7,364.11 L394.2,364.18 L394.7,364.23 L395.2,364.26 L395.7,364.31 L396.2,364.36 L396.7,364.41 L397.2,364.44 L397.7,364.48 L398.2,364.51 L398.7,364.54 L399.2,364.59 L399.7,364.64 L400.2,364.67 L400.7,364.69 L401.2,364.72 L401.7,364.76 L402.2,364.79 L402.7,364.83 L403.2,364.87 L403.7,364.90 L404.2,364.92 L404.7,364.95 L405.2,364.99 L405.7,365.04 L406.2,365.08 L406.7,365.11 L407.2,365.13 L407.7,365.15 L408.2,365.16 L408.7,365.20 L409.2,365.24 L409.7,365.27 L410.2,365.28 L410.7,365.30 L411.2,365.32 L411.7,365.35 L412.2,365.38 L412.7,365.40 L413.2,365.41 L413.7,365.44 L414.2,365.47 L414.7,365.47 L415.2,365.49 L415.7,365.52 L416.2,365.55 L416.7,365.56 L417.2,365.58 L417.7,365.60 L418.2,365.61 L418.7,365.62 L419.2,365.64 L419.7,365.65 L420.2,365.67 L420.7,365.69 L421.2,365.71 L421.7,365.72 L422.2,365.73 L422.7,365.74 L423.2,365.75 L423.7,365.77 L424.2,365.79 L424.7,365.80 L425.2,365.81 L425.7,365.81 L426.2,365.82 L426.7,365.83 L427.2,365.84 L427.7,365.86 L428.2,365.87 L428.7,365.87 L429.2,365.88 L429.7,365.89 L430.2,365.90 L430.7,365.91 L431.2,365.91 L431.7,365.92 L432.2,365.93 L432.7,365.94 L433.2,365.94 L433.7,365.94 L434.2,365.95 L434.7,365.96 L435.2,365.96 L435.7,365.97 L436.2,365.97 L436.7,365.98 L437.2,365.98 L437.7,365.98 L438.2,365.99 L438.7,365.99 L439.2,365.99 L439.7,366.00 L440.2,366.00 L440.7,366.00 L441.2,366.00 L441.7,366.00 L442.2,366.01 L442.7,366.01 L443.2,366.01 L443.7,366.01 L444.2,366.01 L444.7,366.01 L445.2,366.01 L445.7,366.01 L446.2,366.01 L446.7,366.02 L447.2,366.02 L447.7,366.02 L448.2,366.02 L448.7,366.02 L449.2,366.01 L449.7,366.01 L450.2,366.01 L450.7,366.01 L451.2,366.01 L451.7,366.01 L452.2,366.01 L452.7,366.01 L453.2,366.01 L453.7,366.01 L454.2,366.01 L454.7,366.01 L455.2,366.00 L455.7,366.00 L456.2,366.00 L456.7,366.00 L457.2,366.00 L457.7,366.00 L458.2,366.00 L458.7,366.00 L459.2,365.99 L459.7,365.99 L460.2,365.99 L460.7,365.99 L461.2,365.99 L461.7,365.99 L462.2,365.99 L462.7,365.98 L463.2,365.98 L463.7,365.98 L464.2,365.98 L464.7,365.98 L465.2,365.98 L465.7,365.98 L466.2,365.98 L466.7,365.98 L467.2,365.98 L467.7,365.98 L468.2,365.98 L468.7,365.98 L469.2,365.97 L469.7,365.97 L470.2,365.97 L470.7,365.98 L471.2,365.98 L471.7,365.98 L472.2,365.98 L472.7,365.98 L473.2,365.98 L473.7,365.98 L474.2,365.98 L474.7,365.98 L475.2,365.98 L475.7,365.98 L476.2,365.99 L476.7,365.99 L477.2,365.99 L477.7,365.99 L478.2,366.00 L478.7,366.00 L479.2,366.00 L479.7,366.01 L480.2,366.01 L480.7,366.01 L481.2,366.02 L481.7,366.02 L482.2,366.03 L482.7,366.03 L483.2,366.04 L483.7,366.04 L484.2,366.05 L484.7,366.05 L485.2,366.06 L485.7,366.07 L486.2,366.07 L486.7,366.08 L487.2,366.09 L487.7,366.10 L488.2,366.11 L488.7,366.11 L489.2,366.12 L489.7,366.13 L490.2,366.14 L490.7,366.15" fill="none" stroke="#6aa52f" stroke-width="1.95" stroke-linejoin="round" stroke-dasharray="6.1 1.8"/>
<path d="M75.7,366.79 L76.2,366.75 L76.7,366.70 L77.2,366.65 L77.7,366.60 L78.2,366.55 L78.7,366.50 L79.2,366.45 L79.7,366.40 L80.2,366.34 L80.7,366.28 L81.2,366.22 L81.7,366.16 L82.2,366.10 L82.7,366.03 L83.2,365.96 L83.7,365.88 L84.2,365.81 L84.7,365.73 L85.2,365.65 L85.7,365.56 L86.2,365.47 L86.7,365.35 L87.2,365.25 L87.7,365.14 L88.2,365.02 L88.7,364.91 L89.2,364.78 L89.7,364.62 L90.2,364.46 L90.7,364.28 L91.2,364.11 L91.7,363.95 L92.2,363.77 L92.7,363.55 L93.2,363.30 L93.7,363.03 L94.2,362.79 L94.7,362.56 L95.2,362.32 L95.7,362.04 L96.2,361.70 L96.7,361.37 L97.2,361.06 L97.7,360.68 L98.2,360.28 L98.7,359.92 L99.2,359.49 L99.7,359.02 L100.2,358.58 L100.7,358.17 L101.2,357.71 L101.7,357.16 L102.2,356.61 L102.7,356.09 L103.2,355.62 L103.7,354.99 L104.2,354.25 L104.7,353.62 L105.2,352.98 L105.7,352.22 L106.2,351.41 L106.7,350.68 L107.2,349.97 L107.7,349.12 L108.2,348.22 L108.7,347.34 L109.2,346.32 L109.7,345.33 L110.2,344.54 L110.7,343.69 L111.2,342.71 L111.7,341.74 L112.2,340.66 L112.7,339.37 L113.2,338.07 L113.7,336.82 L114.2,335.55 L114.7,334.37 L115.2,333.19 L115.7,331.98 L116.2,330.60 L116.7,329.09 L117.2,327.82 L117.7,326.56 L118.2,325.23 L118.7,323.77 L119.2,322.29 L119.7,320.96 L120.2,319.55 L120.7,318.13 L121.2,316.65 L121.7,315.20 L122.2,314.02 L122.7,312.82 L123.2,311.26 L123.7,309.70 L124.2,308.30 L124.7,306.61 L125.2,304.80 L125.7,303.17 L126.2,301.70 L126.7,300.07 L127.2,298.11 L127.7,296.23 L128.2,294.71 L128.7,293.08 L129.2,291.11 L129.7,289.06 L130.2,287.13 L130.7,285.52 L131.2,283.91 L131.7,281.69 L132.2,279.42 L132.7,277.61 L133.2,275.93 L133.7,274.13 L134.2,271.83 L134.7,269.56 L135.2,267.63 L135.7,265.60 L136.2,263.49 L136.7,261.36 L137.2,259.17 L137.7,256.97 L138.2,254.76 L138.7,252.54 L139.2,250.46 L139.7,248.40 L140.2,246.28 L140.7,244.18 L141.2,242.17 L141.7,240.07 L142.2,237.77 L142.7,235.57 L143.2,233.36 L143.7,231.00 L144.2,228.78 L144.7,226.41 L145.2,223.98 L145.7,221.96 L146.2,219.29 L146.7,216.59 L147.2,214.88 L147.7,213.10 L148.2,211.02 L148.7,208.75 L149.2,206.71 L149.7,204.77 L150.2,202.37 L150.7,200.18 L151.2,198.59 L151.7,197.09 L152.2,195.28 L152.7,193.21 L153.2,191.01 L153.7,189.03 L154.2,187.20 L154.7,185.02 L155.2,182.86 L155.7,181.03 L156.2,178.94 L156.7,176.90 L157.2,175.20 L157.7,173.53 L158.2,171.80 L158.7,169.79 L159.2,167.69 L159.7,165.75 L160.2,163.83 L160.7,162.20 L161.2,160.71 L161.7,158.73 L162.2,156.54 L162.7,154.56 L163.2,152.71 L163.7,150.76 L164.2,148.92 L164.7,147.37 L165.2,145.73 L165.7,144.09 L166.2,142.39 L166.7,140.22 L167.2,137.90 L167.7,136.12 L168.2,134.86 L168.7,133.02 L169.2,130.63 L169.7,128.91 L170.2,127.59 L170.7,126.05 L171.2,124.44 L171.7,122.54 L172.2,120.51 L172.7,118.44 L173.2,116.28 L173.7,114.01 L174.2,112.33 L174.7,111.49 L175.2,110.08 L175.7,108.23 L176.2,106.50 L176.7,104.84 L177.2,103.64 L177.7,102.41 L178.2,100.62 L178.7,98.83 L179.2,97.76 L179.7,96.61 L180.2,94.87 L180.7,93.32 L181.2,92.24 L181.7,91.06 L182.2,89.53 L182.7,88.11 L183.2,87.09 L183.7,86.50 L184.2,86.08 L184.7,85.47 L185.2,84.56 L185.7,83.16 L186.2,81.73 L186.7,80.84 L187.2,80.24 L187.7,79.99 L188.2,79.73 L188.7,78.89 L189.2,78.18 L189.7,77.93 L190.2,77.68 L190.7,77.05 L191.2,76.14 L191.7,75.57 L192.2,75.53 L192.7,75.55 L193.2,75.12 L193.7,74.87 L194.2,74.96 L194.7,74.54 L195.2,74.16 L195.7,73.99 L196.2,73.80 L196.7,73.85 L197.2,73.96 L197.7,74.01 L198.2,73.93 L198.7,73.65 L199.2,73.75 L199.7,74.14 L200.2,74.32 L200.7,74.52 L201.2,74.97 L201.7,75.26 L202.2,74.73 L202.7,74.26 L203.2,74.84 L203.7,75.80 L204.2,76.44 L204.7,76.60 L205.2,76.69 L205.7,76.74 L206.2,76.51 L206.7,76.55 L207.2,77.09 L207.7,77.96 L208.2,78.60 L208.7,78.81 L209.2,79.04 L209.7,79.30 L210.2,79.74 L210.7,80.58 L211.2,81.41 L211.7,81.82 L212.2,82.29 L212.7,82.95 L213.2,83.27 L213.7,83.75 L214.2,84.58 L214.7,85.03 L215.2,85.41 L215.7,86.14 L216.2,86.86 L216.7,87.47 L217.2,88.39 L217.7,89.20 L218.2,89.23 L218.7,89.73 L219.2,91.06 L219.7,92.03 L220.2,92.76 L220.7,93.45 L221.2,94.00 L221.7,94.53 L222.2,95.10 L222.7,96.14 L223.2,97.07 L223.7,97.64 L224.2,98.53 L224.7,99.68 L225.2,100.69 L225.7,101.72 L226.2,102.89 L226.7,103.84 L227.2,104.31 L227.7,104.70 L228.2,105.74 L228.7,106.96 L229.2,107.91 L229.7,108.85 L230.2,109.63 L230.7,110.53 L231.2,111.72 L231.7,112.81 L232.2,113.75 L232.7,114.92 L233.2,116.20 L233.7,117.28 L234.2,118.30 L234.7,119.26 L235.2,120.07 L235.7,121.24 L236.2,122.62 L236.7,123.61 L237.2,124.43 L237.7,125.10 L238.2,125.79 L238.7,126.96 L239.2,128.24 L239.7,129.52 L240.2,130.90 L240.7,131.96 L241.2,133.21 L241.7,134.66 L242.2,135.52 L242.7,136.81 L243.2,138.53 L243.7,139.46 L244.2,140.14 L244.7,141.36 L245.2,142.94 L245.7,143.84 L246.2,144.34 L246.7,145.75 L247.2,147.42 L247.7,148.50 L248.2,149.41 L248.7,150.98 L249.2,152.80 L249.7,153.81 L250.2,154.55 L250.7,155.71 L251.2,157.06 L251.7,158.08 L252.2,159.03 L252.7,160.76 L253.2,162.50 L253.7,163.59 L254.2,164.47 L254.7,165.57 L255.2,166.97 L255.7,168.55 L256.2,170.24 L256.7,171.82 L257.2,172.59 L257.7,173.23 L258.2,174.80 L258.7,176.54 L259.2,178.03 L259.7,179.15 L260.2,180.06 L260.7,181.49 L261.2,183.00 L261.7,184.10 L262.2,185.23 L262.7,186.63 L263.2,188.39 L263.7,189.85 L264.2,190.70 L264.7,191.61 L265.2,192.93 L265.7,194.35 L266.2,195.73 L266.7,196.92 L267.2,197.82 L267.7,198.95 L268.2,200.61 L268.7,202.15 L269.2,203.27 L269.7,204.73 L270.2,206.05 L270.7,206.67 L271.2,207.45 L271.7,208.97 L272.2,210.87 L272.7,212.31 L273.2,213.22 L273.7,214.27 L274.2,215.44 L274.7,216.62 L275.2,218.09 L275.7,219.43 L276.2,220.73 L276.7,221.94 L277.2,222.58 L277.7,223.57 L278.2,225.23 L278.7,226.47 L279.2,227.08 L279.7,227.98 L280.2,229.41 L280.7,230.64 L281.2,231.67 L281.7,233.19 L282.2,234.49 L282.7,234.98 L283.2,235.94 L283.7,237.15 L284.2,237.87 L284.7,239.04 L285.2,239.95 L285.7,240.47 L286.2,241.79 L286.7,242.98 L287.2,243.20 L287.7,243.51 L288.2,244.96 L288.7,246.42 L289.2,247.14 L289.7,247.85 L290.2,248.47 L290.7,249.19 L291.2,250.16 L291.7,251.24 L292.2,252.28 L292.7,252.95 L293.2,253.58 L293.7,254.48 L294.2,255.36 L294.7,256.08 L295.2,256.81 L295.7,257.70 L296.2,259.00 L296.7,260.15 L297.2,260.68 L297.7,261.12 L298.2,261.70 L298.7,262.71 L299.2,263.84 L299.7,264.55 L300.2,265.38 L300.7,266.21 L301.2,266.92 L301.7,267.92 L302.2,268.82 L302.7,269.36 L303.2,269.91 L303.7,270.53 L304.2,271.19 L304.7,272.23 L305.2,273.20 L305.7,273.96 L306.2,274.66 L306.7,275.20 L307.2,275.86 L307.7,276.72 L308.2,277.71 L308.7,278.70 L309.2,279.53 L309.7,280.21 L310.2,281.00 L310.7,281.81 L311.2,282.63 L311.7,283.60 L312.2,284.54 L312.7,285.03 L313.2,285.37 L313.7,286.04 L314.2,286.78 L314.7,287.50 L315.2,288.30 L315.7,289.26 L316.2,290.04 L316.7,290.46 L317.2,290.80 L317.7,291.29 L318.2,292.07 L318.7,293.08 L319.2,294.07 L319.7,294.89 L320.2,295.41 L320.7,295.76 L321.2,296.47 L321.7,297.34 L322.2,297.93 L322.7,298.28 L323.2,298.91 L323.7,299.80 L324.2,300.19 L324.7,300.50 L325.2,301.30 L325.7,301.99 L326.2,302.48 L326.7,302.91 L327.2,303.49 L327.7,304.26 L328.2,304.60 L328.7,304.82 L329.2,305.26 L329.7,305.75 L330.2,306.46 L330.7,307.13 L331.2,307.77 L331.7,308.37 L332.2,308.96 L332.7,309.60 L333.2,309.95 L333.7,310.27 L334.2,310.66 L334.7,310.99 L335.2,311.50 L335.7,312.20 L336.2,312.81 L336.7,313.19 L337.2,313.36 L337.7,313.67 L338.2,314.22 L338.7,314.74 L339.2,315.06 L339.7,315.36 L340.2,315.98 L340.7,316.65 L341.2,317.11 L341.7,317.49 L342.2,318.03 L342.7,318.70 L343.2,319.18 L343.7,319.47 L344.2,319.85 L344.7,320.37 L345.2,320.91 L345.7,321.34 L346.2,321.84 L346.7,322.34 L347.2,322.59 L347.7,322.92 L348.2,323.62 L348.7,324.32 L349.2,324.60 L349.7,324.86 L350.2,325.47 L350.7,326.01 L351.2,326.32 L351.7,326.60 L352.2,327.07 L352.7,327.69 L353.2,328.22 L353.7,328.55 L354.2,328.86 L354.7,329.38 L355.2,330.00 L355.7,330.51 L356.2,330.98 L356.7,331.43 L357.2,331.82 L357.7,332.22 L358.2,332.67 L358.7,333.05 L359.2,333.49 L359.7,333.98 L360.2,334.33 L360.7,334.79 L361.2,335.31 L361.7,335.71 L362.2,336.15 L362.7,336.56 L363.2,336.96 L363.7,337.49 L364.2,337.93 L364.7,338.18 L365.2,338.42 L365.7,338.69 L366.2,339.05 L366.7,339.51 L367.2,340.04 L367.7,340.44 L368.2,340.68 L368.7,341.09 L369.2,341.49 L369.7,341.81 L370.2,342.10 L370.7,342.37 L371.2,342.71 L371.7,343.14 L372.2,343.51 L372.7,343.82 L373.2,344.20 L373.7,344.50 L374.2,344.70 L374.7,345.02 L375.2,345.31 L375.7,345.45 L376.2,345.74 L376.7,346.17 L377.2,346.44 L377.7,346.58 L378.2,346.83 L378.7,347.23 L379.2,347.53 L379.7,347.67 L380.2,347.90 L380.7,348.27 L381.2,348.49 L381.7,348.58 L382.2,348.79 L382.7,349.13 L383.2,349.46 L383.7,349.69 L384.2,349.78 L384.7,350.00 L385.2,350.34 L385.7,350.56 L386.2,350.82 L386.7,351.07 L387.2,351.19 L387.7,351.31 L388.2,351.42 L388.7,351.56 L389.2,351.74 L389.7,351.94 L390.2,352.16 L390.7,352.39 L391.2,352.74 L391.7,352.92 L392.2,352.86 L392.7,353.01 L393.2,353.32 L393.7,353.51 L394.2,353.64 L394.7,353.82 L395.2,353.99 L395.7,354.15 L396.2,354.37 L396.7,354.59 L397.2,354.78 L397.7,354.92 L398.2,355.01 L398.7,355.07 L399.2,355.15 L399.7,355.29 L400.2,355.50 L400.7,355.75 L401.2,355.92 L401.7,355.96 L402.2,356.04 L402.7,356.18 L403.2,356.31 L403.7,356.46 L404.2,356.63 L404.7,356.79 L405.2,356.97 L405.7,357.07 L406.2,357.12 L406.7,357.24 L407.2,357.39 L407.7,357.46 L408.2,357.52 L408.7,357.66 L409.2,357.85 L409.7,358.03 L410.2,358.10 L410.7,358.11 L411.2,358.21 L411.7,358.41 L412.2,358.55 L412.7,358.62 L413.2,358.71 L413.7,358.84 L414.2,358.96 L414.7,359.03 L415.2,359.11 L415.7,359.17 L416.2,359.22 L416.7,359.33 L417.2,359.46 L417.7,359.55 L418.2,359.67 L418.7,359.79 L419.2,359.84 L419.7,359.89 L420.2,360.03 L420.7,360.16 L421.2,360.25 L421.7,360.33 L422.2,360.40 L422.7,360.40 L423.2,360.41 L423.7,360.51 L424.2,360.61 L424.7,360.73 L425.2,360.82 L425.7,360.88 L426.2,360.95 L426.7,361.00 L427.2,361.07 L427.7,361.12 L428.2,361.16 L428.7,361.24 L429.2,361.36 L429.7,361.45 L430.2,361.47 L430.7,361.52 L431.2,361.59 L431.7,361.63 L432.2,361.69 L432.7,361.74 L433.2,361.77 L433.7,361.84 L434.2,361.93 L434.7,361.98 L435.2,362.02 L435.7,362.10 L436.2,362.13 L436.7,362.13 L437.2,362.18 L437.7,362.25 L438.2,362.30 L438.7,362.35 L439.2,362.36 L439.7,362.40 L440.2,362.48 L440.7,362.54 L441.2,362.60 L441.7,362.70 L442.2,362.74 L442.7,362.71 L443.2,362.71 L443.7,362.76 L444.2,362.80 L444.7,362.84 L445.2,362.89 L445.7,362.90 L446.2,362.93 L446.7,362.99 L447.2,363.01 L447.7,363.04 L448.2,363.09 L448.7,363.11 L449.2,363.14 L449.7,363.16 L450.2,363.18 L450.7,363.22 L451.2,363.26 L451.7,363.29 L452.2,363.33 L452.7,363.36 L453.2,363.37 L453.7,363.39 L454.2,363.42 L454.7,363.44 L455.2,363.43 L455.7,363.44 L456.2,363.49 L456.7,363.53 L457.2,363.53 L457.7,363.53 L458.2,363.55 L458.7,363.59 L459.2,363.60 L459.7,363.61 L460.2,363.64 L460.7,363.66 L461.2,363.67 L461.7,363.68 L462.2,363.70 L462.7,363.73 L463.2,363.75 L463.7,363.76 L464.2,363.79 L464.7,363.80 L465.2,363.81 L465.7,363.82 L466.2,363.81 L466.7,363.82 L467.2,363.85 L467.7,363.88 L468.2,363.91 L468.7,363.92 L469.2,363.93 L469.7,363.94 L470.2,363.93 L470.7,363.93 L471.2,363.96 L471.7,363.98 L472.2,363.99 L472.7,363.99 L473.2,364.00 L473.7,364.01 L474.2,364.02 L474.7,364.04 L475.2,364.07 L475.7,364.08 L476.2,364.09 L476.7,364.08 L477.2,364.08 L477.7,364.09 L478.2,364.11 L478.7,364.14 L479.2,364.16 L479.7,364.18 L480.2,364.20 L480.7,364.21 L481.2,364.20 L481.7,364.21 L482.2,364.25 L482.7,364.24 L483.2,364.22 L483.7,364.26 L484.2,364.29 L484.7,364.30 L485.2,364.31 L485.7,364.32 L486.2,364.34 L486.7,364.35 L487.2,364.37 L487.7,364.38 L488.2,364.40 L488.7,364.41 L489.2,364.42 L489.7,364.42 L490.2,364.43 L490.7,364.46" fill="none" stroke="#6b3fa0" stroke-width="1.95" stroke-linejoin="round" stroke-dasharray="6.1 1.8"/>
<path d="M75.7,366.29 L76.2,366.15 L76.7,366.02 L77.2,365.89 L77.7,365.76 L78.2,365.62 L78.7,365.49 L79.2,365.35 L79.7,365.24 L80.2,365.12 L80.7,364.97 L81.2,364.84 L81.7,364.72 L82.2,364.59 L82.7,364.44 L83.2,364.30 L83.7,364.20 L84.2,364.09 L84.7,363.94 L85.2,363.81 L85.7,363.72 L86.2,363.58 L86.7,363.43 L87.2,363.31 L87.7,363.09 L88.2,362.83 L88.7,362.61 L89.2,362.40 L89.7,362.23 L90.2,361.96 L90.7,361.67 L91.2,361.37 L91.7,360.98 L92.2,360.58 L92.7,360.12 L93.2,359.66 L93.7,359.26 L94.2,358.91 L94.7,358.40 L95.2,357.69 L95.7,357.01 L96.2,356.30 L96.7,355.51 L97.2,354.57 L97.7,353.54 L98.2,352.66 L98.7,352.00 L99.2,351.19 L99.7,349.94 L100.2,348.72 L100.7,347.67 L101.2,346.34 L101.7,344.90 L102.2,343.52 L102.7,342.04 L103.2,340.42 L103.7,338.86 L104.2,337.49 L104.7,336.09 L105.2,334.50 L105.7,332.50 L106.2,330.50 L106.7,329.16 L107.2,327.76 L107.7,325.64 L108.2,323.41 L108.7,321.43 L109.2,319.62 L109.7,317.81 L110.2,316.10 L110.7,314.52 L111.2,312.49 L111.7,310.57 L112.2,309.05 L112.7,307.02 L113.2,304.59 L113.7,302.54 L114.2,300.59 L114.7,298.07 L115.2,295.76 L115.7,294.33 L116.2,292.73 L116.7,290.35 L117.2,287.91 L117.7,285.85 L118.2,283.90 L118.7,282.26 L119.2,281.03 L119.7,279.34 L120.2,277.11 L120.7,275.03 L121.2,273.05 L121.7,270.94 L122.2,268.83 L122.7,266.91 L123.2,265.81 L123.7,264.95 L124.2,262.92 L124.7,260.41 L125.2,258.40 L125.7,256.93 L126.2,255.92 L126.7,254.35 L127.2,252.55 L127.7,251.44 L128.2,250.58 L128.7,249.72 L129.2,248.74 L129.7,247.46 L130.2,245.62 L130.7,244.12 L131.2,243.43 L131.7,242.61 L132.2,240.87 L132.7,238.94 L133.2,237.83 L133.7,236.63 L134.2,234.89 L134.7,233.77 L135.2,232.82 L135.7,230.64 L136.2,228.61 L136.7,227.43 L137.2,225.79 L137.7,224.06 L138.2,222.62 L138.7,220.93 L139.2,219.22 L139.7,217.60 L140.2,215.51 L140.7,213.30 L141.2,211.55 L141.7,210.15 L142.2,208.63 L142.7,206.50 L143.2,204.84 L143.7,203.84 L144.2,202.08 L144.7,200.64 L145.2,200.04 L145.7,199.07 L146.2,197.86 L146.7,196.23 L147.2,194.39 L147.7,193.11 L148.2,192.25 L148.7,191.17 L149.2,189.84 L149.7,188.41 L150.2,187.06 L150.7,185.82 L151.2,184.45 L151.7,183.77 L152.2,183.45 L152.7,182.77 L153.2,181.13 L153.7,179.00 L154.2,178.21 L154.7,177.72 L155.2,176.02 L155.7,174.14 L156.2,173.48 L156.7,172.49 L157.2,170.48 L157.7,169.60 L158.2,168.77 L158.7,167.19 L159.2,165.81 L159.7,164.23 L160.2,162.82 L160.7,162.01 L161.2,161.33 L161.7,160.61 L162.2,159.52 L162.7,157.99 L163.2,157.15 L163.7,156.77 L164.2,155.38 L164.7,153.87 L165.2,153.14 L165.7,152.34 L166.2,151.55 L166.7,151.06 L167.2,150.35 L167.7,148.71 L168.2,146.77 L168.7,146.25 L169.2,146.40 L169.7,146.04 L170.2,145.57 L170.7,144.56 L171.2,143.64 L171.7,143.21 L172.2,141.83 L172.7,141.21 L173.2,141.41 L173.7,140.59 L174.2,140.46 L174.7,140.59 L175.2,139.40 L175.7,138.58 L176.2,138.48 L176.7,137.62 L177.2,136.99 L177.7,137.49 L178.2,137.92 L178.7,137.86 L179.2,137.47 L179.7,136.87 L180.2,136.30 L180.7,135.97 L181.2,136.26 L181.7,136.61 L182.2,136.54 L182.7,136.42 L183.2,136.09 L183.7,136.00 L184.2,136.30 L184.7,136.61 L185.2,136.94 L185.7,137.44 L186.2,137.78 L186.7,137.37 L187.2,136.88 L187.7,136.96 L188.2,137.68 L188.7,138.18 L189.2,138.09 L189.7,138.57 L190.2,139.23 L190.7,139.24 L191.2,139.57 L191.7,140.36 L192.2,140.77 L192.7,141.30 L193.2,142.17 L193.7,142.42 L194.2,142.10 L194.7,142.31 L195.2,143.05 L195.7,143.11 L196.2,143.43 L196.7,144.77 L197.2,145.65 L197.7,145.77 L198.2,146.17 L198.7,147.02 L199.2,147.41 L199.7,147.45 L200.2,147.84 L200.7,148.72 L201.2,149.62 L201.7,150.40 L202.2,151.26 L202.7,152.09 L203.2,152.74 L203.7,152.77 L204.2,153.06 L204.7,154.23 L205.2,155.61 L205.7,156.63 L206.2,156.61 L206.7,156.44 L207.2,157.81 L207.7,159.21 L208.2,159.33 L208.7,159.60 L209.2,160.35 L209.7,161.12 L210.2,162.02 L210.7,163.01 L211.2,164.01 L211.7,164.31 L212.2,164.50 L212.7,165.62 L213.2,166.42 L213.7,166.48 L214.2,166.40 L214.7,166.97 L215.2,168.40 L215.7,168.75 L216.2,168.40 L216.7,169.25 L217.2,171.02 L217.7,172.35 L218.2,172.99 L218.7,173.35 L219.2,173.34 L219.7,174.06 L220.2,175.69 L220.7,176.60 L221.2,177.27 L221.7,177.93 L222.2,177.98 L222.7,178.76 L223.2,180.51 L223.7,181.53 L224.2,181.96 L224.7,182.49 L225.2,182.74 L225.7,183.25 L226.2,183.63 L226.7,184.02 L227.2,185.50 L227.7,186.79 L228.2,187.21 L228.7,188.13 L229.2,189.00 L229.7,188.80 L230.2,189.04 L230.7,190.08 L231.2,191.46 L231.7,193.16 L232.2,193.82 L232.7,193.90 L233.2,195.45 L233.7,197.23 L234.2,197.22 L234.7,197.44 L235.2,198.90 L235.7,200.13 L236.2,200.65 L236.7,200.85 L237.2,201.82 L237.7,203.41 L238.2,204.09 L238.7,204.80 L239.2,206.68 L239.7,207.91 L240.2,208.31 L240.7,209.18 L241.2,210.22 L241.7,210.76 L242.2,211.66 L242.7,212.94 L243.2,214.00 L243.7,215.08 L244.2,216.04 L244.7,217.33 L245.2,219.20 L245.7,220.53 L246.2,220.61 L246.7,221.03 L247.2,222.31 L247.7,223.50 L248.2,224.99 L248.7,226.81 L249.2,228.55 L249.7,229.59 L250.2,230.55 L250.7,232.55 L251.2,233.61 L251.7,232.94 L252.2,232.99 L252.7,234.67 L253.2,235.77 L253.7,236.27 L254.2,237.83 L254.7,239.16 L255.2,240.17 L255.7,241.82 L256.2,242.97 L256.7,243.49 L257.2,244.22 L257.7,244.88 L258.2,245.76 L258.7,247.19 L259.2,248.27 L259.7,248.36 L260.2,248.88 L260.7,250.20 L261.2,251.11 L261.7,252.67 L262.2,254.28 L262.7,254.39 L263.2,254.20 L263.7,255.24 L264.2,256.94 L264.7,257.93 L265.2,258.79 L265.7,259.66 L266.2,260.02 L266.7,260.31 L267.2,260.25 L267.7,260.27 L268.2,261.56 L268.7,263.26 L269.2,264.39 L269.7,265.22 L270.2,265.89 L270.7,266.74 L271.2,267.41 L271.7,267.65 L272.2,267.95 L272.7,268.75 L273.2,270.04 L273.7,270.94 L274.2,271.82 L274.7,272.90 L275.2,273.34 L275.7,273.59 L276.2,273.88 L276.7,274.16 L277.2,275.04 L277.7,275.57 L278.2,276.01 L278.7,277.05 L279.2,277.71 L279.7,278.25 L280.2,278.96 L280.7,279.96 L281.2,280.54 L281.7,280.22 L282.2,280.40 L282.7,281.58 L283.2,282.57 L283.7,282.83 L284.2,283.29 L284.7,283.63 L285.2,283.59 L285.7,284.20 L286.2,285.21 L286.7,286.08 L287.2,286.50 L287.7,286.88 L288.2,287.44 L288.7,288.00 L289.2,288.76 L289.7,289.39 L290.2,289.87 L290.7,290.64 L291.2,291.52 L291.7,292.10 L292.2,292.67 L292.7,293.08 L293.2,293.39 L293.7,294.14 L294.2,294.82 L294.7,295.18 L295.2,295.45 L295.7,296.05 L296.2,297.21 L296.7,297.89 L297.2,297.86 L297.7,298.17 L298.2,298.80 L298.7,299.48 L299.2,300.16 L299.7,300.18 L300.2,299.90 L300.7,300.43 L301.2,301.29 L301.7,301.91 L302.2,302.36 L302.7,302.99 L303.2,304.09 L303.7,304.43 L304.2,304.03 L304.7,304.66 L305.2,305.66 L305.7,306.09 L306.2,306.26 L306.7,306.44 L307.2,307.13 L307.7,308.21 L308.2,308.88 L308.7,308.96 L309.2,309.15 L309.7,309.69 L310.2,310.30 L310.7,310.87 L311.2,311.21 L311.7,311.50 L312.2,311.88 L312.7,312.34 L313.2,313.20 L313.7,313.69 L314.2,313.75 L314.7,314.11 L315.2,314.66 L315.7,315.43 L316.2,315.94 L316.7,316.21 L317.2,316.62 L317.7,316.80 L318.2,316.99 L318.7,317.46 L319.2,317.98 L319.7,318.46 L320.2,318.88 L320.7,319.33 L321.2,320.03 L321.7,320.48 L322.2,320.42 L322.7,320.67 L323.2,321.54 L323.7,322.15 L324.2,322.14 L324.7,322.30 L325.2,323.08 L325.7,323.55 L326.2,323.56 L326.7,324.01 L327.2,324.43 L327.7,324.75 L328.2,325.18 L328.7,325.48 L329.2,326.14 L329.7,326.79 L330.2,326.91 L330.7,326.82 L331.2,326.93 L331.7,327.25 L332.2,327.93 L332.7,328.78 L333.2,329.03 L333.7,328.99 L334.2,329.24 L334.7,329.70 L335.2,330.14 L335.7,330.68 L336.2,331.30 L336.7,331.45 L337.2,331.65 L337.7,332.33 L338.2,333.00 L338.7,333.25 L339.2,333.29 L339.7,333.58 L340.2,334.01 L340.7,334.38 L341.2,334.58 L341.7,334.63 L342.2,334.92 L342.7,335.36 L343.2,335.81 L343.7,336.36 L344.2,336.57 L344.7,336.64 L345.2,336.97 L345.7,337.35 L346.2,337.82 L346.7,338.14 L347.2,338.09 L347.7,338.31 L348.2,338.92 L348.7,339.36 L349.2,339.70 L349.7,340.03 L350.2,340.33 L350.7,340.59 L351.2,340.77 L351.7,341.01 L352.2,341.21 L352.7,341.53 L353.2,342.07 L353.7,342.29 L354.2,342.24 L354.7,342.57 L355.2,343.19 L355.7,343.56 L356.2,343.67 L356.7,343.80 L357.2,344.22 L357.7,344.83 L358.2,345.12 L358.7,345.28 L359.2,345.56 L359.7,345.82 L360.2,345.99 L360.7,346.17 L361.2,346.47 L361.7,346.79 L362.2,347.02 L362.7,347.10 L363.2,347.32 L363.7,347.78 L364.2,348.11 L364.7,348.19 L365.2,348.29 L365.7,348.53 L366.2,348.91 L366.7,349.36 L367.2,349.64 L367.7,349.80 L368.2,349.88 L368.7,350.05 L369.2,350.47 L369.7,350.78 L370.2,350.87 L370.7,351.03 L371.2,351.25 L371.7,351.44 L372.2,351.61 L372.7,351.71 L373.2,351.90 L373.7,352.25 L374.2,352.60 L374.7,352.85 L375.2,352.92 L375.7,352.98 L376.2,353.04 L376.7,353.11 L377.2,353.40 L377.7,353.74 L378.2,354.00 L378.7,354.35 L379.2,354.59 L379.7,354.72 L380.2,354.94 L380.7,355.12 L381.2,355.26 L381.7,355.41 L382.2,355.54 L382.7,355.67 L383.2,355.85 L383.7,356.01 L384.2,356.20 L384.7,356.42 L385.2,356.57 L385.7,356.73 L386.2,356.95 L386.7,357.06 L387.2,357.12 L387.7,357.35 L388.2,357.53 L388.7,357.62 L389.2,357.74 L389.7,357.90 L390.2,358.13 L390.7,358.25 L391.2,358.39 L391.7,358.58 L392.2,358.69 L392.7,358.78 L393.2,358.84 L393.7,358.92 L394.2,359.05 L394.7,359.27 L395.2,359.49 L395.7,359.62 L396.2,359.70 L396.7,359.72 L397.2,359.80 L397.7,359.98 L398.2,360.16 L398.7,360.28 L399.2,360.38 L399.7,360.49 L400.2,360.57 L400.7,360.70 L401.2,360.82 L401.7,360.88 L402.2,361.00 L402.7,361.15 L403.2,361.22 L403.7,361.27 L404.2,361.38 L404.7,361.45 L405.2,361.42 L405.7,361.46 L406.2,361.64 L406.7,361.82 L407.2,361.89 L407.7,361.89 L408.2,361.94 L408.7,362.07 L409.2,362.15 L409.7,362.16 L410.2,362.19 L410.7,362.29 L411.2,362.42 L411.7,362.51 L412.2,362.56 L412.7,362.58 L413.2,362.61 L413.7,362.69 L414.2,362.76 L414.7,362.85 L415.2,362.92 L415.7,362.94 L416.2,362.99 L416.7,363.10 L417.2,363.15 L417.7,363.11 L418.2,363.11 L418.7,363.23 L419.2,363.36 L419.7,363.40 L420.2,363.40 L420.7,363.41 L421.2,363.48 L421.7,363.54 L422.2,363.55 L422.7,363.58 L423.2,363.62 L423.7,363.66 L424.2,363.68 L424.7,363.74 L425.2,363.78 L425.7,363.82 L426.2,363.88 L426.7,363.90 L427.2,363.90 L427.7,363.96 L428.2,364.00 L428.7,364.02 L429.2,364.07 L429.7,364.10 L430.2,364.11 L430.7,364.09 L431.2,364.11 L431.7,364.20 L432.2,364.26 L432.7,364.25 L433.2,364.24 L433.7,364.22 L434.2,364.22 L434.7,364.27 L435.2,364.31 L435.7,364.28 L436.2,364.27 L436.7,364.30 L437.2,364.36 L437.7,364.39 L438.2,364.38 L438.7,364.41 L439.2,364.46 L439.7,364.44 L440.2,364.42 L440.7,364.41 L441.2,364.44 L441.7,364.49 L442.2,364.52 L442.7,364.55 L443.2,364.57 L443.7,364.54 L444.2,364.56 L444.7,364.59 L445.2,364.61 L445.7,364.59 L446.2,364.59 L446.7,364.62 L447.2,364.61 L447.7,364.59 L448.2,364.63 L448.7,364.70 L449.2,364.73 L449.7,364.70 L450.2,364.70 L450.7,364.76 L451.2,364.76 L451.7,364.73 L452.2,364.73 L452.7,364.76 L453.2,364.80 L453.7,364.80 L454.2,364.79 L454.7,364.83 L455.2,364.86 L455.7,364.86 L456.2,364.88 L456.7,364.89 L457.2,364.89 L457.7,364.90 L458.2,364.94 L458.7,364.97 L459.2,364.96 L459.7,364.94 L460.2,364.96 L460.7,364.99 L461.2,365.01 L461.7,365.03 L462.2,365.03 L462.7,365.05 L463.2,365.08 L463.7,365.11 L464.2,365.11 L464.7,365.14 L465.2,365.16 L465.7,365.16 L466.2,365.17 L466.7,365.20 L467.2,365.21 L467.7,365.20 L468.2,365.22 L468.7,365.24 L469.2,365.26 L469.7,365.28 L470.2,365.31 L470.7,365.33 L471.2,365.36 L471.7,365.37 L472.2,365.37 L472.7,365.38 L473.2,365.40 L473.7,365.43 L474.2,365.44 L474.7,365.45 L475.2,365.48 L475.7,365.49 L476.2,365.49 L476.7,365.50 L477.2,365.53 L477.7,365.55 L478.2,365.56 L478.7,365.57 L479.2,365.58 L479.7,365.60 L480.2,365.62 L480.7,365.63 L481.2,365.64 L481.7,365.65 L482.2,365.67 L482.7,365.68 L483.2,365.69 L483.7,365.71 L484.2,365.73 L484.7,365.74 L485.2,365.74 L485.7,365.75 L486.2,365.76 L486.7,365.77 L487.2,365.77 L487.7,365.79 L488.2,365.80 L488.7,365.82 L489.2,365.82 L489.7,365.82 L490.2,365.83 L490.7,365.84" fill="none" stroke="#7f7f7f" stroke-width="2.3" stroke-linejoin="round"/>
<path d="M75.7,366.43 L76.2,366.19 L76.7,365.94 L77.2,365.68 L77.7,365.46 L78.2,365.28 L78.7,365.10 L79.2,364.88 L79.7,364.65 L80.2,364.40 L80.7,364.19 L81.2,364.00 L81.7,363.77 L82.2,363.55 L82.7,363.37 L83.2,363.20 L83.7,363.06 L84.2,362.88 L84.7,362.70 L85.2,362.56 L85.7,362.42 L86.2,362.21 L86.7,362.02 L87.2,361.83 L87.7,361.58 L88.2,361.40 L88.7,361.28 L89.2,361.07 L89.7,360.75 L90.2,360.45 L90.7,360.19 L91.2,359.83 L91.7,359.42 L92.2,359.03 L92.7,358.56 L93.2,358.07 L93.7,357.54 L94.2,356.91 L94.7,356.28 L95.2,355.62 L95.7,354.90 L96.2,354.20 L96.7,353.42 L97.2,352.52 L97.7,351.57 L98.2,350.69 L98.7,349.75 L99.2,348.33 L99.7,346.79 L100.2,345.58 L100.7,344.10 L101.2,342.60 L101.7,341.30 L102.2,339.91 L102.7,338.63 L103.2,336.97 L103.7,334.84 L104.2,332.98 L104.7,331.60 L105.2,330.05 L105.7,328.25 L106.2,326.48 L106.7,324.49 L107.2,322.29 L107.7,320.14 L108.2,318.07 L108.7,315.72 L109.2,313.69 L109.7,312.21 L110.2,310.00 L110.7,307.74 L111.2,305.81 L111.7,303.48 L112.2,301.18 L112.7,298.83 L113.2,296.59 L113.7,294.84 L114.2,292.53 L114.7,290.05 L115.2,288.12 L115.7,285.74 L116.2,283.13 L116.7,281.04 L117.2,279.04 L117.7,276.93 L118.2,274.85 L118.7,272.38 L119.2,269.67 L119.7,267.34 L120.2,265.27 L120.7,263.05 L121.2,260.11 L121.7,257.46 L122.2,256.51 L122.7,255.75 L123.2,253.33 L123.7,250.85 L124.2,248.90 L124.7,245.96 L125.2,243.35 L125.7,241.51 L126.2,239.19 L126.7,236.57 L127.2,234.18 L127.7,232.36 L128.2,230.23 L128.7,227.32 L129.2,225.38 L129.7,224.65 L130.2,222.50 L130.7,219.05 L131.2,217.25 L131.7,215.83 L132.2,213.03 L132.7,210.77 L133.2,209.06 L133.7,206.54 L134.2,204.02 L134.7,201.84 L135.2,199.24 L135.7,197.46 L136.2,197.17 L136.7,196.06 L137.2,193.51 L137.7,191.31 L138.2,189.62 L138.7,187.36 L139.2,184.87 L139.7,183.51 L140.2,182.63 L140.7,180.75 L141.2,178.44 L141.7,177.24 L142.2,176.30 L142.7,174.80 L143.2,173.83 L143.7,172.30 L144.2,170.09 L144.7,168.70 L145.2,167.69 L145.7,166.43 L146.2,165.28 L146.7,164.27 L147.2,162.54 L147.7,160.38 L148.2,158.60 L148.7,157.01 L149.2,155.77 L149.7,154.18 L150.2,152.35 L150.7,151.54 L151.2,150.65 L151.7,148.88 L152.2,147.11 L152.7,145.80 L153.2,144.69 L153.7,143.03 L154.2,141.19 L154.7,140.47 L155.2,139.67 L155.7,137.81 L156.2,136.49 L156.7,136.39 L157.2,135.87 L157.7,133.98 L158.2,131.98 L158.7,130.51 L159.2,129.32 L159.7,127.69 L160.2,125.89 L160.7,124.98 L161.2,123.87 L161.7,122.18 L162.2,121.27 L162.7,120.67 L163.2,119.29 L163.7,118.06 L164.2,117.43 L164.7,115.99 L165.2,113.58 L165.7,111.76 L166.2,111.24 L166.7,110.75 L167.2,109.76 L167.7,109.32 L168.2,109.15 L168.7,108.46 L169.2,107.08 L169.7,105.49 L170.2,105.15 L170.7,104.99 L171.2,104.36 L171.7,103.88 L172.2,102.65 L172.7,102.26 L173.2,102.18 L173.7,101.27 L174.2,101.00 L174.7,100.46 L175.2,100.06 L175.7,100.44 L176.2,100.66 L176.7,100.62 L177.2,100.27 L177.7,99.72 L178.2,99.55 L178.7,99.34 L179.2,99.10 L179.7,99.86 L180.2,100.73 L180.7,101.26 L181.2,100.93 L181.7,100.13 L182.2,100.18 L182.7,100.17 L183.2,100.41 L183.7,101.17 L184.2,101.46 L184.7,101.40 L185.2,101.36 L185.7,101.20 L186.2,100.92 L186.7,101.34 L187.2,101.86 L187.7,101.67 L188.2,102.11 L188.7,103.03 L189.2,103.13 L189.7,103.20 L190.2,104.22 L190.7,104.88 L191.2,104.37 L191.7,104.50 L192.2,105.52 L192.7,106.20 L193.2,106.83 L193.7,107.48 L194.2,108.21 L194.7,109.37 L195.2,110.16 L195.7,110.90 L196.2,112.51 L196.7,113.65 L197.2,113.91 L197.7,114.90 L198.2,115.80 L198.7,115.65 L199.2,116.10 L199.7,117.43 L200.2,118.77 L200.7,119.94 L201.2,120.26 L201.7,120.71 L202.2,122.53 L202.7,123.66 L203.2,123.86 L203.7,124.65 L204.2,125.38 L204.7,126.01 L205.2,127.38 L205.7,128.73 L206.2,129.20 L206.7,130.06 L207.2,131.13 L207.7,131.66 L208.2,132.59 L208.7,134.19 L209.2,135.33 L209.7,135.56 L210.2,136.46 L210.7,137.70 L211.2,138.86 L211.7,140.15 L212.2,140.71 L212.7,141.40 L213.2,142.95 L213.7,143.87 L214.2,144.28 L214.7,145.48 L215.2,146.55 L215.7,146.86 L216.2,147.62 L216.7,149.10 L217.2,149.91 L217.7,150.07 L218.2,151.34 L218.7,152.86 L219.2,152.77 L219.7,152.81 L220.2,154.33 L220.7,156.01 L221.2,157.02 L221.7,158.08 L222.2,159.26 L222.7,159.69 L223.2,160.54 L223.7,161.79 L224.2,161.80 L224.7,161.98 L225.2,163.70 L225.7,164.91 L226.2,165.70 L226.7,167.26 L227.2,168.19 L227.7,168.07 L228.2,168.05 L228.7,168.99 L229.2,170.53 L229.7,171.78 L230.2,172.22 L230.7,172.68 L231.2,174.02 L231.7,175.23 L232.2,176.95 L232.7,178.87 L233.2,179.63 L233.7,180.41 L234.2,181.43 L234.7,182.30 L235.2,183.03 L235.7,184.05 L236.2,185.01 L236.7,185.32 L237.2,186.37 L237.7,188.04 L238.2,189.65 L238.7,191.05 L239.2,191.56 L239.7,192.17 L240.2,192.95 L240.7,193.96 L241.2,195.61 L241.7,196.78 L242.2,197.54 L242.7,198.02 L243.2,198.82 L243.7,200.39 L244.2,201.94 L244.7,203.15 L245.2,204.68 L245.7,206.45 L246.2,206.86 L246.7,207.05 L247.2,208.76 L247.7,210.58 L248.2,211.19 L248.7,211.59 L249.2,212.99 L249.7,215.05 L250.2,216.31 L250.7,217.07 L251.2,218.19 L251.7,219.48 L252.2,220.89 L252.7,221.33 L253.2,221.64 L253.7,223.05 L254.2,224.72 L254.7,226.35 L255.2,227.69 L255.7,228.24 L256.2,228.71 L256.7,229.83 L257.2,231.07 L257.7,232.15 L258.2,232.99 L258.7,234.57 L259.2,236.46 L259.7,236.52 L260.2,236.46 L260.7,238.20 L261.2,240.19 L261.7,240.94 L262.2,241.60 L262.7,243.51 L263.2,244.67 L263.7,244.51 L264.2,245.49 L264.7,247.30 L265.2,248.47 L265.7,249.27 L266.2,249.82 L266.7,250.57 L267.2,251.71 L267.7,251.88 L268.2,252.24 L268.7,253.87 L269.2,255.00 L269.7,255.53 L270.2,256.63 L270.7,257.86 L271.2,258.53 L271.7,259.47 L272.2,260.91 L272.7,261.66 L273.2,262.00 L273.7,262.79 L274.2,263.77 L274.7,264.98 L275.2,266.28 L275.7,267.03 L276.2,267.46 L276.7,268.05 L277.2,268.90 L277.7,270.05 L278.2,270.84 L278.7,271.41 L279.2,271.90 L279.7,272.07 L280.2,272.92 L280.7,274.51 L281.2,275.61 L281.7,276.04 L282.2,276.94 L282.7,277.81 L283.2,278.17 L283.7,278.76 L284.2,279.82 L284.7,280.99 L285.2,281.57 L285.7,281.85 L286.2,282.26 L286.7,282.86 L287.2,283.75 L287.7,284.45 L288.2,285.09 L288.7,286.12 L289.2,286.77 L289.7,287.00 L290.2,287.41 L290.7,288.13 L291.2,288.85 L291.7,289.44 L292.2,289.83 L292.7,289.61 L293.2,290.01 L293.7,291.20 L294.2,291.99 L294.7,292.55 L295.2,292.94 L295.7,293.97 L296.2,295.54 L296.7,296.07 L297.2,295.86 L297.7,296.20 L298.2,296.61 L298.7,296.96 L299.2,297.85 L299.7,298.26 L300.2,298.51 L300.7,299.18 L301.2,299.60 L301.7,300.23 L302.2,301.09 L302.7,301.44 L303.2,301.75 L303.7,302.53 L304.2,303.30 L304.7,303.72 L305.2,303.83 L305.7,304.29 L306.2,305.09 L306.7,305.63 L307.2,305.87 L307.7,305.86 L308.2,306.29 L308.7,307.21 L309.2,307.95 L309.7,308.61 L310.2,309.32 L310.7,309.67 L311.2,309.70 L311.7,310.13 L312.2,310.79 L312.7,311.17 L313.2,311.78 L313.7,312.66 L314.2,312.73 L314.7,312.38 L315.2,312.77 L315.7,313.76 L316.2,314.35 L316.7,314.43 L317.2,314.96 L317.7,315.49 L318.2,315.85 L318.7,316.39 L319.2,316.54 L319.7,316.55 L320.2,317.26 L320.7,318.15 L321.2,318.65 L321.7,319.17 L322.2,319.29 L322.7,319.09 L323.2,319.57 L323.7,320.67 L324.2,321.42 L324.7,321.53 L325.2,321.69 L325.7,322.11 L326.2,322.57 L326.7,322.96 L327.2,323.28 L327.7,323.63 L328.2,324.04 L328.7,324.39 L329.2,324.71 L329.7,325.34 L330.2,326.01 L330.7,326.25 L331.2,326.54 L331.7,327.34 L332.2,327.73 L332.7,327.77 L333.2,328.38 L333.7,328.85 L334.2,328.73 L334.7,328.95 L335.2,329.81 L335.7,330.54 L336.2,330.94 L336.7,331.32 L337.2,331.59 L337.7,331.84 L338.2,332.34 L338.7,332.75 L339.2,332.77 L339.7,333.06 L340.2,333.70 L340.7,333.83 L341.2,333.97 L341.7,334.69 L342.2,335.24 L342.7,335.45 L343.2,335.78 L343.7,336.05 L344.2,336.14 L344.7,336.41 L345.2,336.85 L345.7,337.31 L346.2,337.84 L346.7,338.36 L347.2,338.43 L347.7,338.29 L348.2,338.70 L348.7,339.54 L349.2,340.00 L349.7,340.03 L350.2,340.23 L350.7,340.56 L351.2,340.47 L351.7,340.34 L352.2,340.86 L352.7,341.59 L353.2,342.08 L353.7,342.46 L354.2,342.67 L354.7,342.73 L355.2,342.96 L355.7,343.41 L356.2,343.71 L356.7,343.77 L357.2,344.12 L357.7,344.64 L358.2,344.93 L358.7,345.07 L359.2,345.27 L359.7,345.78 L360.2,346.29 L360.7,346.51 L361.2,346.68 L361.7,346.90 L362.2,347.17 L362.7,347.56 L363.2,348.01 L363.7,348.18 L364.2,348.18 L364.7,348.34 L365.2,348.50 L365.7,348.69 L366.2,349.00 L366.7,349.32 L367.2,349.60 L367.7,349.79 L368.2,350.03 L368.7,350.25 L369.2,350.43 L369.7,350.62 L370.2,350.79 L370.7,350.98 L371.2,351.12 L371.7,351.30 L372.2,351.59 L372.7,351.72 L373.2,351.81 L373.7,352.02 L374.2,352.33 L374.7,352.57 L375.2,352.67 L375.7,352.89 L376.2,353.30 L376.7,353.57 L377.2,353.64 L377.7,353.87 L378.2,354.16 L378.7,354.35 L379.2,354.56 L379.7,354.64 L380.2,354.73 L380.7,355.01 L381.2,355.30 L381.7,355.52 L382.2,355.63 L382.7,355.75 L383.2,355.86 L383.7,355.90 L384.2,356.02 L384.7,356.23 L385.2,356.39 L385.7,356.47 L386.2,356.60 L386.7,356.75 L387.2,356.96 L387.7,357.23 L388.2,357.28 L388.7,357.26 L389.2,357.45 L389.7,357.67 L390.2,357.79 L390.7,357.85 L391.2,357.92 L391.7,358.03 L392.2,358.12 L392.7,358.35 L393.2,358.61 L393.7,358.76 L394.2,358.83 L394.7,358.84 L395.2,358.84 L395.7,358.93 L396.2,359.20 L396.7,359.47 L397.2,359.59 L397.7,359.66 L398.2,359.76 L398.7,359.82 L399.2,359.89 L399.7,359.95 L400.2,359.94 L400.7,359.98 L401.2,360.08 L401.7,360.20 L402.2,360.40 L402.7,360.54 L403.2,360.62 L403.7,360.68 L404.2,360.75 L404.7,360.87 L405.2,361.07 L405.7,361.19 L406.2,361.25 L406.7,361.31 L407.2,361.35 L407.7,361.43 L408.2,361.50 L408.7,361.57 L409.2,361.66 L409.7,361.70 L410.2,361.77 L410.7,361.87 L411.2,361.92 L411.7,361.98 L412.2,362.05 L412.7,362.09 L413.2,362.16 L413.7,362.23 L414.2,362.34 L414.7,362.46 L415.2,362.52 L415.7,362.60 L416.2,362.71 L416.7,362.72 L417.2,362.74 L417.7,362.81 L418.2,362.84 L418.7,362.86 L419.2,362.89 L419.7,362.95 L420.2,363.04 L420.7,363.12 L421.2,363.19 L421.7,363.24 L422.2,363.30 L422.7,363.37 L423.2,363.44 L423.7,363.46 L424.2,363.46 L424.7,363.48 L425.2,363.57 L425.7,363.63 L426.2,363.62 L426.7,363.68 L427.2,363.74 L427.7,363.77 L428.2,363.81 L428.7,363.81 L429.2,363.83 L429.7,363.91 L430.2,363.96 L430.7,363.97 L431.2,364.00 L431.7,364.05 L432.2,364.09 L432.7,364.12 L433.2,364.12 L433.7,364.14 L434.2,364.19 L434.7,364.27 L435.2,364.32 L435.7,364.33 L436.2,364.34 L436.7,364.36 L437.2,364.36 L437.7,364.37 L438.2,364.41 L438.7,364.48 L439.2,364.49 L439.7,364.49 L440.2,364.51 L440.7,364.52 L441.2,364.54 L441.7,364.57 L442.2,364.60 L442.7,364.62 L443.2,364.64 L443.7,364.63 L444.2,364.67 L444.7,364.71 L445.2,364.70 L445.7,364.70 L446.2,364.72 L446.7,364.74 L447.2,364.78 L447.7,364.82 L448.2,364.83 L448.7,364.80 L449.2,364.79 L449.7,364.82 L450.2,364.85 L450.7,364.86 L451.2,364.85 L451.7,364.89 L452.2,364.91 L452.7,364.88 L453.2,364.88 L453.7,364.90 L454.2,364.90 L454.7,364.92 L455.2,364.95 L455.7,364.97 L456.2,364.96 L456.7,364.99 L457.2,365.00 L457.7,364.97 L458.2,364.94 L458.7,364.94 L459.2,364.96 L459.7,364.98 L460.2,364.98 L460.7,365.01 L461.2,365.02 L461.7,365.00 L462.2,365.00 L462.7,365.02 L463.2,365.03 L463.7,365.04 L464.2,365.03 L464.7,365.03 L465.2,365.05 L465.7,365.06 L466.2,365.06 L466.7,365.07 L467.2,365.06 L467.7,365.06 L468.2,365.08 L468.7,365.09 L469.2,365.09 L469.7,365.10 L470.2,365.10 L470.7,365.08 L471.2,365.06 L471.7,365.09 L472.2,365.10 L472.7,365.09 L473.2,365.10 L473.7,365.12 L474.2,365.11 L474.7,365.11 L475.2,365.11 L475.7,365.13 L476.2,365.12 L476.7,365.10 L477.2,365.12 L477.7,365.17 L478.2,365.18 L478.7,365.17 L479.2,365.17 L479.7,365.15 L480.2,365.14 L480.7,365.18 L481.2,365.21 L481.7,365.20 L482.2,365.19 L482.7,365.22 L483.2,365.23 L483.7,365.21 L484.2,365.20 L484.7,365.20 L485.2,365.22 L485.7,365.23 L486.2,365.24 L486.7,365.23 L487.2,365.25 L487.7,365.29 L488.2,365.28 L488.7,365.27 L489.2,365.29 L489.7,365.32 L490.2,365.33 L490.7,365.33" fill="none" stroke="#f5821f" stroke-width="2.3" stroke-linejoin="round"/>
<path d="M75.7,366.18 L76.2,366.06 L76.7,365.95 L77.2,365.84 L77.7,365.73 L78.2,365.61 L78.7,365.50 L79.2,365.40 L79.7,365.30 L80.2,365.21 L80.7,365.13 L81.2,365.06 L81.7,364.95 L82.2,364.87 L82.7,364.80 L83.2,364.71 L83.7,364.61 L84.2,364.49 L84.7,364.42 L85.2,364.38 L85.7,364.30 L86.2,364.21 L86.7,364.14 L87.2,364.05 L87.7,363.94 L88.2,363.82 L88.7,363.72 L89.2,363.59 L89.7,363.40 L90.2,363.21 L90.7,363.13 L91.2,362.98 L91.7,362.66 L92.2,362.40 L92.7,362.23 L93.2,362.01 L93.7,361.75 L94.2,361.45 L94.7,361.11 L95.2,360.68 L95.7,360.16 L96.2,359.66 L96.7,359.18 L97.2,358.67 L97.7,358.05 L98.2,357.47 L98.7,356.93 L99.2,356.16 L99.7,355.35 L100.2,354.58 L100.7,353.65 L101.2,352.73 L101.7,351.75 L102.2,350.58 L102.7,349.56 L103.2,348.74 L103.7,347.74 L104.2,346.66 L104.7,345.58 L105.2,344.42 L105.7,343.19 L106.2,341.48 L106.7,339.90 L107.2,338.91 L107.7,337.96 L108.2,336.62 L108.7,334.87 L109.2,333.19 L109.7,331.95 L110.2,330.50 L110.7,328.48 L111.2,326.79 L111.7,325.15 L112.2,323.22 L112.7,321.53 L113.2,319.81 L113.7,317.90 L114.2,316.22 L114.7,314.63 L115.2,312.66 L115.7,310.41 L116.2,308.34 L116.7,306.58 L117.2,304.74 L117.7,302.76 L118.2,300.80 L118.7,298.29 L119.2,295.78 L119.7,293.87 L120.2,291.78 L120.7,289.62 L121.2,287.59 L121.7,285.45 L122.2,283.08 L122.7,280.34 L123.2,277.97 L123.7,276.25 L124.2,273.94 L124.7,271.52 L125.2,269.67 L125.7,267.33 L126.2,264.75 L126.7,262.35 L127.2,259.60 L127.7,256.58 L128.2,254.35 L128.7,252.98 L129.2,251.06 L129.7,248.40 L130.2,245.91 L130.7,243.79 L131.2,241.41 L131.7,238.77 L132.2,236.36 L132.7,233.58 L133.2,230.65 L133.7,227.95 L134.2,224.49 L134.7,221.53 L135.2,219.77 L135.7,217.87 L136.2,215.30 L136.7,212.17 L137.2,209.48 L137.7,206.88 L138.2,203.83 L138.7,201.47 L139.2,199.55 L139.7,197.03 L140.2,194.39 L140.7,191.07 L141.2,187.56 L141.7,185.52 L142.2,183.75 L142.7,181.10 L143.2,178.91 L143.7,177.31 L144.2,174.67 L144.7,171.49 L145.2,169.56 L145.7,167.95 L146.2,165.59 L146.7,163.51 L147.2,161.07 L147.7,158.49 L148.2,156.65 L148.7,154.77 L149.2,152.71 L149.7,150.85 L150.2,149.25 L150.7,147.61 L151.2,145.56 L151.7,143.19 L152.2,141.64 L152.7,140.72 L153.2,139.28 L153.7,137.42 L154.2,135.16 L154.7,132.91 L155.2,131.44 L155.7,130.05 L156.2,128.36 L156.7,126.54 L157.2,124.76 L157.7,123.20 L158.2,121.24 L158.7,118.95 L159.2,117.57 L159.7,116.57 L160.2,114.59 L160.7,112.47 L161.2,111.65 L161.7,111.80 L162.2,110.52 L162.7,107.50 L163.2,105.21 L163.7,104.14 L164.2,103.17 L164.7,102.19 L165.2,101.03 L165.7,99.52 L166.2,98.53 L166.7,97.81 L167.2,96.76 L167.7,95.39 L168.2,93.93 L168.7,93.06 L169.2,92.07 L169.7,90.85 L170.2,90.17 L170.7,89.46 L171.2,88.24 L171.7,86.93 L172.2,86.29 L172.7,85.98 L173.2,85.50 L173.7,84.38 L174.2,83.43 L174.7,83.07 L175.2,82.02 L175.7,80.92 L176.2,80.41 L176.7,80.04 L177.2,79.69 L177.7,79.73 L178.2,80.18 L178.7,80.34 L179.2,80.36 L179.7,80.16 L180.2,79.27 L180.7,78.14 L181.2,77.46 L181.7,77.58 L182.2,78.27 L182.7,78.51 L183.2,78.43 L183.7,79.10 L184.2,79.27 L184.7,78.46 L185.2,78.22 L185.7,78.38 L186.2,78.24 L186.7,78.29 L187.2,79.04 L187.7,79.34 L188.2,79.34 L188.7,80.75 L189.2,82.28 L189.7,82.87 L190.2,82.69 L190.7,81.86 L191.2,82.48 L191.7,84.16 L192.2,85.02 L192.7,85.51 L193.2,85.92 L193.7,86.11 L194.2,86.18 L194.7,87.05 L195.2,88.40 L195.7,89.04 L196.2,89.69 L196.7,90.39 L197.2,90.33 L197.7,90.45 L198.2,91.55 L198.7,93.25 L199.2,94.44 L199.7,94.87 L200.2,95.84 L200.7,97.04 L201.2,98.10 L201.7,98.94 L202.2,99.46 L202.7,99.95 L203.2,100.55 L203.7,101.74 L204.2,102.39 L204.7,102.07 L205.2,102.54 L205.7,104.16 L206.2,106.12 L206.7,108.18 L207.2,108.88 L207.7,108.68 L208.2,109.50 L208.7,110.35 L209.2,110.69 L209.7,111.30 L210.2,112.61 L210.7,113.88 L211.2,114.81 L211.7,116.01 L212.2,117.42 L212.7,118.81 L213.2,119.63 L213.7,120.13 L214.2,120.74 L214.7,121.72 L215.2,122.86 L215.7,123.76 L216.2,124.83 L216.7,125.82 L217.2,127.19 L217.7,128.85 L218.2,129.71 L218.7,130.15 L219.2,130.72 L219.7,131.71 L220.2,132.71 L220.7,133.28 L221.2,134.29 L221.7,136.13 L222.2,137.39 L222.7,137.81 L223.2,138.71 L223.7,139.98 L224.2,141.39 L224.7,142.29 L225.2,142.56 L225.7,143.69 L226.2,145.53 L226.7,146.93 L227.2,148.10 L227.7,149.38 L228.2,150.96 L228.7,152.41 L229.2,152.92 L229.7,153.31 L230.2,154.63 L230.7,156.46 L231.2,157.36 L231.7,157.43 L232.2,157.93 L232.7,159.43 L233.2,161.55 L233.7,163.02 L234.2,163.27 L234.7,163.31 L235.2,164.62 L235.7,166.64 L236.2,168.03 L236.7,169.07 L237.2,170.03 L237.7,171.16 L238.2,172.52 L238.7,173.26 L239.2,173.83 L239.7,175.39 L240.2,177.08 L240.7,178.38 L241.2,180.15 L241.7,181.33 L242.2,182.36 L242.7,184.12 L243.2,184.68 L243.7,185.28 L244.2,186.41 L244.7,187.16 L245.2,188.55 L245.7,189.92 L246.2,191.01 L246.7,192.22 L247.2,193.30 L247.7,194.19 L248.2,195.27 L248.7,197.20 L249.2,199.30 L249.7,200.37 L250.2,200.85 L250.7,201.85 L251.2,203.22 L251.7,204.17 L252.2,204.65 L252.7,205.80 L253.2,207.89 L253.7,209.22 L254.2,209.79 L254.7,211.16 L255.2,212.66 L255.7,213.62 L256.2,214.22 L256.7,215.39 L257.2,217.12 L257.7,218.12 L258.2,219.02 L258.7,220.23 L259.2,221.98 L259.7,223.70 L260.2,224.44 L260.7,225.05 L261.2,226.34 L261.7,227.41 L262.2,228.29 L262.7,229.88 L263.2,231.21 L263.7,232.26 L264.2,233.71 L264.7,234.92 L265.2,235.74 L265.7,236.55 L266.2,237.72 L266.7,239.74 L267.2,241.99 L267.7,243.93 L268.2,245.41 L268.7,245.81 L269.2,246.13 L269.7,246.81 L270.2,247.41 L270.7,248.30 L271.2,249.02 L271.7,249.90 L272.2,251.05 L272.7,251.41 L273.2,252.22 L273.7,254.12 L274.2,255.39 L274.7,256.13 L275.2,256.88 L275.7,257.81 L276.2,259.16 L276.7,260.51 L277.2,261.10 L277.7,261.61 L278.2,262.99 L278.7,264.16 L279.2,265.11 L279.7,265.79 L280.2,266.14 L280.7,267.33 L281.2,268.76 L281.7,269.87 L282.2,270.89 L282.7,271.45 L283.2,271.97 L283.7,272.78 L284.2,273.35 L284.7,274.14 L285.2,275.28 L285.7,276.27 L286.2,277.07 L286.7,277.96 L287.2,278.73 L287.7,279.41 L288.2,280.32 L288.7,280.62 L289.2,280.58 L289.7,281.27 L290.2,282.34 L290.7,283.26 L291.2,284.13 L291.7,284.92 L292.2,285.65 L292.7,286.57 L293.2,286.97 L293.7,287.08 L294.2,287.79 L294.7,288.73 L295.2,289.89 L295.7,290.54 L296.2,290.48 L296.7,291.42 L297.2,292.51 L297.7,292.65 L298.2,292.82 L298.7,293.14 L299.2,293.86 L299.7,294.51 L300.2,294.76 L300.7,295.55 L301.2,296.66 L301.7,297.48 L302.2,298.01 L302.7,298.14 L303.2,298.75 L303.7,300.03 L304.2,300.85 L304.7,301.03 L305.2,301.29 L305.7,301.70 L306.2,302.39 L306.7,303.32 L307.2,303.54 L307.7,303.64 L308.2,304.26 L308.7,304.62 L309.2,305.04 L309.7,305.50 L310.2,305.87 L310.7,306.86 L311.2,307.59 L311.7,307.29 L312.2,307.32 L312.7,308.08 L313.2,308.96 L313.7,309.58 L314.2,310.08 L314.7,310.68 L315.2,310.94 L315.7,311.67 L316.2,312.75 L316.7,313.21 L317.2,313.33 L317.7,313.51 L318.2,313.79 L318.7,314.37 L319.2,315.08 L319.7,315.31 L320.2,315.55 L320.7,316.09 L321.2,316.52 L321.7,316.93 L322.2,317.44 L322.7,318.04 L323.2,318.73 L323.7,319.22 L324.2,319.46 L324.7,319.50 L325.2,319.70 L325.7,320.40 L326.2,320.95 L326.7,321.49 L327.2,322.18 L327.7,322.54 L328.2,323.13 L328.7,323.94 L329.2,324.29 L329.7,324.39 L330.2,324.68 L330.7,324.83 L331.2,325.08 L331.7,325.92 L332.2,326.73 L332.7,327.31 L333.2,327.74 L333.7,328.25 L334.2,328.83 L334.7,328.98 L335.2,329.16 L335.7,329.80 L336.2,330.42 L336.7,330.27 L337.2,330.09 L337.7,330.71 L338.2,331.44 L338.7,331.90 L339.2,332.14 L339.7,332.26 L340.2,332.59 L340.7,333.19 L341.2,333.89 L341.7,334.53 L342.2,334.81 L342.7,334.79 L343.2,334.99 L343.7,335.20 L344.2,335.47 L344.7,336.06 L345.2,336.43 L345.7,336.66 L346.2,336.99 L346.7,337.46 L347.2,337.86 L347.7,338.15 L348.2,338.57 L348.7,338.98 L349.2,339.27 L349.7,339.45 L350.2,339.78 L350.7,340.14 L351.2,340.22 L351.7,340.45 L352.2,341.03 L352.7,341.50 L353.2,341.71 L353.7,341.96 L354.2,342.42 L354.7,342.79 L355.2,343.05 L355.7,343.18 L356.2,343.13 L356.7,343.35 L357.2,343.69 L357.7,343.98 L358.2,344.41 L358.7,344.96 L359.2,345.39 L359.7,345.59 L360.2,345.76 L360.7,346.08 L361.2,346.38 L361.7,346.40 L362.2,346.53 L362.7,347.06 L363.2,347.47 L363.7,347.54 L364.2,347.77 L364.7,348.08 L365.2,348.10 L365.7,348.14 L366.2,348.24 L366.7,348.41 L367.2,348.73 L367.7,349.00 L368.2,349.43 L368.7,349.87 L369.2,349.98 L369.7,350.20 L370.2,350.59 L370.7,350.87 L371.2,351.14 L371.7,351.31 L372.2,351.49 L372.7,351.80 L373.2,351.90 L373.7,351.85 L374.2,352.11 L374.7,352.51 L375.2,352.65 L375.7,352.81 L376.2,353.06 L376.7,353.31 L377.2,353.37 L377.7,353.28 L378.2,353.49 L378.7,353.90 L379.2,354.15 L379.7,354.19 L380.2,354.32 L380.7,354.56 L381.2,354.74 L381.7,355.01 L382.2,355.31 L382.7,355.39 L383.2,355.29 L383.7,355.35 L384.2,355.66 L384.7,355.95 L385.2,356.10 L385.7,356.14 L386.2,356.28 L386.7,356.45 L387.2,356.65 L387.7,356.87 L388.2,356.98 L388.7,357.12 L389.2,357.27 L389.7,357.37 L390.2,357.52 L390.7,357.63 L391.2,357.66 L391.7,357.91 L392.2,358.18 L392.7,358.26 L393.2,358.39 L393.7,358.57 L394.2,358.63 L394.7,358.63 L395.2,358.84 L395.7,359.02 L396.2,358.99 L396.7,359.05 L397.2,359.15 L397.7,359.26 L398.2,359.40 L398.7,359.47 L399.2,359.51 L399.7,359.66 L400.2,359.95 L400.7,360.18 L401.2,360.21 L401.7,360.12 L402.2,360.14 L402.7,360.32 L403.2,360.48 L403.7,360.60 L404.2,360.75 L404.7,360.84 L405.2,360.85 L405.7,360.86 L406.2,361.00 L406.7,361.15 L407.2,361.18 L407.7,361.20 L408.2,361.30 L408.7,361.44 L409.2,361.53 L409.7,361.54 L410.2,361.56 L410.7,361.64 L411.2,361.74 L411.7,361.90 L412.2,362.00 L412.7,361.97 L413.2,361.99 L413.7,362.14 L414.2,362.25 L414.7,362.28 L415.2,362.33 L415.7,362.42 L416.2,362.49 L416.7,362.54 L417.2,362.55 L417.7,362.60 L418.2,362.72 L418.7,362.83 L419.2,362.87 L419.7,362.90 L420.2,362.94 L420.7,362.97 L421.2,363.00 L421.7,363.01 L422.2,363.02 L422.7,363.10 L423.2,363.26 L423.7,363.35 L424.2,363.38 L424.7,363.42 L425.2,363.45 L425.7,363.47 L426.2,363.51 L426.7,363.56 L427.2,363.60 L427.7,363.62 L428.2,363.64 L428.7,363.68 L429.2,363.71 L429.7,363.72 L430.2,363.77 L430.7,363.86 L431.2,363.93 L431.7,363.94 L432.2,363.95 L432.7,364.00 L433.2,364.06 L433.7,364.09 L434.2,364.11 L434.7,364.12 L435.2,364.10 L435.7,364.11 L436.2,364.20 L436.7,364.23 L437.2,364.23 L437.7,364.26 L438.2,364.30 L438.7,364.29 L439.2,364.29 L439.7,364.36 L440.2,364.42 L440.7,364.43 L441.2,364.43 L441.7,364.43 L442.2,364.43 L442.7,364.45 L443.2,364.45 L443.7,364.44 L444.2,364.46 L444.7,364.50 L445.2,364.53 L445.7,364.56 L446.2,364.58 L446.7,364.58 L447.2,364.62 L447.7,364.63 L448.2,364.59 L448.7,364.59 L449.2,364.61 L449.7,364.63 L450.2,364.66 L450.7,364.66 L451.2,364.67 L451.7,364.69 L452.2,364.70 L452.7,364.68 L453.2,364.68 L453.7,364.69 L454.2,364.73 L454.7,364.76 L455.2,364.75 L455.7,364.73 L456.2,364.73 L456.7,364.75 L457.2,364.77 L457.7,364.80 L458.2,364.78 L458.7,364.75 L459.2,364.77 L459.7,364.81 L460.2,364.82 L460.7,364.81 L461.2,364.78 L461.7,364.78 L462.2,364.79 L462.7,364.79 L463.2,364.80 L463.7,364.81 L464.2,364.82 L464.7,364.80 L465.2,364.79 L465.7,364.79 L466.2,364.79 L466.7,364.80 L467.2,364.81 L467.7,364.82 L468.2,364.83 L468.7,364.84 L469.2,364.84 L469.7,364.83 L470.2,364.83 L470.7,364.85 L471.2,364.88 L471.7,364.88 L472.2,364.86 L472.7,364.85 L473.2,364.83 L473.7,364.82 L474.2,364.82 L474.7,364.86 L475.2,364.91 L475.7,364.90 L476.2,364.88 L476.7,364.89 L477.2,364.89 L477.7,364.87 L478.2,364.85 L478.7,364.86 L479.2,364.90 L479.7,364.90 L480.2,364.90 L480.7,364.90 L481.2,364.90 L481.7,364.92 L482.2,364.94 L482.7,364.97 L483.2,364.98 L483.7,364.98 L484.2,364.99 L484.7,365.00 L485.2,364.99 L485.7,364.97 L486.2,364.96 L486.7,364.98 L487.2,365.00 L487.7,365.02 L488.2,365.05 L488.7,365.07 L489.2,365.08 L489.7,365.08 L490.2,365.07 L490.7,365.08" fill="none" stroke="#000000" stroke-width="2.3" stroke-linejoin="round"/>
<path d="M75.7,366.40 L76.2,366.39 L76.7,366.38 L77.2,366.38 L77.7,366.37 L78.2,366.36 L78.7,366.35 L79.2,366.34 L79.7,366.33 L80.2,366.32 L80.7,366.31 L81.2,366.30 L81.7,366.29 L82.2,366.27 L82.7,366.26 L83.2,366.25 L83.7,366.24 L84.2,366.23 L84.7,366.22 L85.2,366.20 L85.7,366.19 L86.2,366.18 L86.7,366.17 L87.2,366.15 L87.7,366.14 L88.2,366.13 L88.7,366.12 L89.2,366.10 L89.7,366.09 L90.2,366.08 L90.7,366.07 L91.2,366.06 L91.7,366.04 L92.2,366.03 L92.7,366.02 L93.2,366.01 L93.7,366.00 L94.2,365.99 L94.7,365.98 L95.2,365.96 L95.7,365.95 L96.2,365.94 L96.7,365.93 L97.2,365.92 L97.7,365.91 L98.2,365.90 L98.7,365.89 L99.2,365.89 L99.7,365.88 L100.2,365.87 L100.7,365.86 L101.2,365.85 L101.7,365.84 L102.2,365.84 L102.7,365.84 L103.2,365.84 L103.7,365.84 L104.2,365.83 L104.7,365.81 L105.2,365.80 L105.7,365.80 L106.2,365.80 L106.7,365.80 L107.2,365.79 L107.7,365.79 L108.2,365.79 L108.7,365.79 L109.2,365.79 L109.7,365.79 L110.2,365.80 L110.7,365.80 L111.2,365.80 L111.7,365.81 L112.2,365.81 L112.7,365.83 L113.2,365.83 L113.7,365.83 L114.2,365.83 L114.7,365.83 L115.2,365.84 L115.7,365.86 L116.2,365.85 L116.7,365.84 L117.2,365.84 L117.7,365.83 L118.2,365.81 L118.7,365.81 L119.2,365.80 L119.7,365.77 L120.2,365.74 L120.7,365.71 L121.2,365.68 L121.7,365.63 L122.2,365.57 L122.7,365.53 L123.2,365.46 L123.7,365.38 L124.2,365.30 L124.7,365.20 L125.2,365.08 L125.7,364.96 L126.2,364.83 L126.7,364.71 L127.2,364.60 L127.7,364.45 L128.2,364.28 L128.7,364.11 L129.2,363.96 L129.7,363.75 L130.2,363.50 L130.7,363.27 L131.2,363.08 L131.7,362.86 L132.2,362.53 L132.7,362.19 L133.2,361.90 L133.7,361.59 L134.2,361.28 L134.7,360.90 L135.2,360.46 L135.7,360.05 L136.2,359.71 L136.7,359.46 L137.2,359.16 L137.7,358.64 L138.2,358.07 L138.7,357.56 L139.2,357.06 L139.7,356.57 L140.2,355.95 L140.7,355.20 L141.2,354.49 L141.7,353.90 L142.2,353.29 L142.7,352.55 L143.2,351.96 L143.7,351.41 L144.2,350.73 L144.7,350.11 L145.2,349.29 L145.7,348.18 L146.2,347.20 L146.7,346.44 L147.2,345.69 L147.7,345.01 L148.2,344.19 L148.7,343.04 L149.2,342.09 L149.7,341.41 L150.2,340.63 L150.7,339.65 L151.2,338.72 L151.7,337.84 L152.2,336.74 L152.7,335.57 L153.2,334.49 L153.7,333.49 L154.2,332.69 L154.7,331.48 L155.2,330.12 L155.7,329.42 L156.2,328.62 L156.7,327.57 L157.2,326.30 L157.7,324.72 L158.2,323.67 L158.7,322.89 L159.2,321.96 L159.7,321.02 L160.2,319.76 L160.7,318.60 L161.2,318.07 L161.7,317.40 L162.2,316.14 L162.7,314.77 L163.2,313.82 L163.7,313.12 L164.2,312.32 L164.7,311.30 L165.2,309.86 L165.7,308.51 L166.2,307.81 L166.7,307.40 L167.2,306.98 L167.7,306.28 L168.2,305.03 L168.7,303.85 L169.2,302.89 L169.7,302.16 L170.2,301.67 L170.7,300.90 L171.2,299.80 L171.7,298.89 L172.2,298.35 L172.7,298.04 L173.2,297.87 L173.7,297.12 L174.2,296.20 L174.7,295.75 L175.2,295.12 L175.7,294.73 L176.2,294.33 L176.7,293.48 L177.2,292.82 L177.7,291.99 L178.2,291.56 L178.7,291.87 L179.2,291.51 L179.7,290.53 L180.2,289.96 L180.7,290.21 L181.2,290.55 L181.7,290.08 L182.2,289.28 L182.7,288.89 L183.2,288.54 L183.7,288.35 L184.2,288.70 L184.7,288.81 L185.2,288.37 L185.7,287.91 L186.2,287.87 L186.7,287.48 L187.2,286.76 L187.7,286.83 L188.2,286.88 L188.7,286.47 L189.2,286.39 L189.7,286.50 L190.2,286.17 L190.7,285.90 L191.2,286.13 L191.7,286.18 L192.2,285.99 L192.7,285.91 L193.2,285.78 L193.7,285.38 L194.2,284.97 L194.7,285.17 L195.2,285.22 L195.7,284.80 L196.2,284.73 L196.7,284.36 L197.2,283.97 L197.7,284.24 L198.2,284.75 L198.7,284.74 L199.2,284.58 L199.7,285.22 L200.2,285.35 L200.7,284.68 L201.2,284.18 L201.7,284.13 L202.2,284.42 L202.7,284.71 L203.2,284.66 L203.7,284.30 L204.2,284.21 L204.7,284.01 L205.2,284.06 L205.7,284.59 L206.2,284.52 L206.7,283.98 L207.2,283.43 L207.7,283.36 L208.2,283.56 L208.7,283.66 L209.2,283.92 L209.7,283.83 L210.2,283.50 L210.7,283.59 L211.2,283.66 L211.7,283.37 L212.2,283.02 L212.7,283.16 L213.2,283.77 L213.7,283.91 L214.2,283.74 L214.7,284.02 L215.2,283.80 L215.7,283.40 L216.2,283.87 L216.7,284.31 L217.2,284.63 L217.7,284.97 L218.2,284.77 L218.7,284.52 L219.2,284.56 L219.7,284.22 L220.2,283.52 L220.7,283.66 L221.2,284.40 L221.7,284.88 L222.2,285.22 L222.7,285.50 L223.2,285.51 L223.7,285.40 L224.2,285.46 L224.7,285.80 L225.2,286.27 L225.7,286.58 L226.2,286.60 L226.7,286.33 L227.2,286.22 L227.7,286.59 L228.2,287.40 L228.7,288.01 L229.2,288.04 L229.7,287.75 L230.2,288.07 L230.7,288.85 L231.2,289.08 L231.7,289.32 L232.2,289.56 L232.7,289.97 L233.2,290.37 L233.7,290.36 L234.2,290.33 L234.7,290.52 L235.2,291.24 L235.7,292.03 L236.2,292.11 L236.7,292.26 L237.2,292.71 L237.7,292.86 L238.2,293.13 L238.7,293.40 L239.2,293.96 L239.7,294.74 L240.2,294.75 L240.7,294.70 L241.2,295.48 L241.7,296.24 L242.2,296.70 L242.7,297.48 L243.2,297.99 L243.7,298.25 L244.2,299.00 L244.7,299.20 L245.2,298.99 L245.7,299.73 L246.2,300.34 L246.7,300.55 L247.2,301.10 L247.7,301.46 L248.2,301.87 L248.7,302.59 L249.2,303.10 L249.7,303.43 L250.2,303.36 L250.7,303.44 L251.2,304.18 L251.7,304.60 L252.2,304.59 L252.7,305.09 L253.2,306.26 L253.7,307.26 L254.2,307.70 L254.7,307.81 L255.2,307.98 L255.7,308.36 L256.2,308.88 L256.7,309.31 L257.2,309.35 L257.7,309.52 L258.2,310.18 L258.7,310.80 L259.2,311.19 L259.7,311.92 L260.2,312.79 L260.7,312.81 L261.2,312.68 L261.7,312.94 L262.2,313.23 L262.7,313.99 L263.2,314.67 L263.7,314.78 L264.2,314.84 L264.7,315.29 L265.2,315.91 L265.7,316.40 L266.2,316.84 L266.7,317.06 L267.2,317.46 L267.7,318.06 L268.2,318.36 L268.7,318.65 L269.2,319.13 L269.7,319.53 L270.2,319.83 L270.7,320.17 L271.2,320.55 L271.7,320.99 L272.2,321.41 L272.7,321.84 L273.2,322.07 L273.7,321.98 L274.2,322.16 L274.7,322.75 L275.2,323.33 L275.7,323.63 L276.2,323.82 L276.7,324.33 L277.2,324.65 L277.7,324.78 L278.2,325.46 L278.7,326.11 L279.2,326.15 L279.7,326.14 L280.2,326.48 L280.7,326.91 L281.2,326.89 L281.7,327.09 L282.2,327.94 L282.7,328.38 L283.2,328.67 L283.7,329.18 L284.2,329.39 L284.7,329.52 L285.2,329.90 L285.7,330.39 L286.2,330.69 L286.7,330.94 L287.2,331.37 L287.7,331.64 L288.2,331.63 L288.7,331.83 L289.2,332.37 L289.7,332.74 L290.2,332.86 L290.7,333.15 L291.2,333.60 L291.7,334.02 L292.2,334.42 L292.7,334.84 L293.2,335.22 L293.7,335.19 L294.2,335.09 L294.7,335.37 L295.2,335.59 L295.7,335.80 L296.2,336.31 L296.7,336.67 L297.2,336.82 L297.7,336.94 L298.2,337.14 L298.7,337.46 L299.2,337.77 L299.7,338.05 L300.2,338.18 L300.7,338.40 L301.2,338.89 L301.7,339.32 L302.2,339.60 L302.7,339.92 L303.2,340.19 L303.7,340.35 L304.2,340.54 L304.7,340.61 L305.2,340.75 L305.7,341.08 L306.2,341.52 L306.7,341.88 L307.2,341.86 L307.7,341.99 L308.2,342.43 L308.7,342.58 L309.2,342.67 L309.7,343.12 L310.2,343.48 L310.7,343.70 L311.2,344.12 L311.7,344.32 L312.2,344.32 L312.7,344.39 L313.2,344.45 L313.7,344.72 L314.2,345.09 L314.7,345.36 L315.2,345.57 L315.7,345.79 L316.2,345.91 L316.7,346.02 L317.2,346.28 L317.7,346.49 L318.2,346.68 L318.7,346.96 L319.2,347.32 L319.7,347.65 L320.2,347.68 L320.7,347.73 L321.2,347.97 L321.7,348.17 L322.2,348.39 L322.7,348.60 L323.2,348.82 L323.7,349.05 L324.2,349.19 L324.7,349.26 L325.2,349.50 L325.7,349.94 L326.2,350.21 L326.7,350.24 L327.2,350.33 L327.7,350.54 L328.2,350.65 L328.7,350.82 L329.2,351.08 L329.7,351.19 L330.2,351.29 L330.7,351.42 L331.2,351.53 L331.7,351.70 L332.2,351.93 L332.7,352.14 L333.2,352.24 L333.7,352.34 L334.2,352.56 L334.7,352.79 L335.2,352.99 L335.7,353.20 L336.2,353.30 L336.7,353.33 L337.2,353.45 L337.7,353.62 L338.2,353.73 L338.7,353.84 L339.2,354.01 L339.7,354.13 L340.2,354.25 L340.7,354.42 L341.2,354.58 L341.7,354.74 L342.2,354.93 L342.7,355.19 L343.2,355.36 L343.7,355.46 L344.2,355.69 L344.7,355.88 L345.2,355.96 L345.7,356.05 L346.2,356.20 L346.7,356.38 L347.2,356.49 L347.7,356.59 L348.2,356.79 L348.7,356.98 L349.2,357.10 L349.7,357.14 L350.2,357.17 L350.7,357.30 L351.2,357.43 L351.7,357.53 L352.2,357.68 L352.7,357.81 L353.2,357.91 L353.7,358.01 L354.2,358.13 L354.7,358.24 L355.2,358.33 L355.7,358.43 L356.2,358.53 L356.7,358.55 L357.2,358.63 L357.7,358.80 L358.2,358.99 L358.7,359.22 L359.2,359.37 L359.7,359.46 L360.2,359.51 L360.7,359.56 L361.2,359.67 L361.7,359.74 L362.2,359.79 L362.7,359.91 L363.2,359.96 L363.7,360.05 L364.2,360.21 L364.7,360.27 L365.2,360.36 L365.7,360.48 L366.2,360.50 L366.7,360.61 L367.2,360.88 L367.7,361.03 L368.2,361.03 L368.7,361.04 L369.2,361.13 L369.7,361.26 L370.2,361.22 L370.7,361.20 L371.2,361.37 L371.7,361.51 L372.2,361.57 L372.7,361.70 L373.2,361.79 L373.7,361.81 L374.2,361.87 L374.7,361.98 L375.2,362.11 L375.7,362.17 L376.2,362.19 L376.7,362.26 L377.2,362.34 L377.7,362.42 L378.2,362.51 L378.7,362.65 L379.2,362.75 L379.7,362.76 L380.2,362.79 L380.7,362.83 L381.2,362.87 L381.7,362.96 L382.2,363.06 L382.7,363.11 L383.2,363.13 L383.7,363.21 L384.2,363.31 L384.7,363.38 L385.2,363.40 L385.7,363.43 L386.2,363.48 L386.7,363.50 L387.2,363.57 L387.7,363.64 L388.2,363.68 L388.7,363.74 L389.2,363.81 L389.7,363.87 L390.2,363.93 L390.7,364.01 L391.2,364.04 L391.7,364.05 L392.2,364.05 L392.7,364.06 L393.2,364.12 L393.7,364.18 L394.2,364.23 L394.7,364.31 L395.2,364.39 L395.7,364.42 L396.2,364.42 L396.7,364.45 L397.2,364.52 L397.7,364.58 L398.2,364.63 L398.7,364.66 L399.2,364.70 L399.7,364.73 L400.2,364.74 L400.7,364.78 L401.2,364.82 L401.7,364.83 L402.2,364.83 L402.7,364.86 L403.2,364.91 L403.7,364.96 L404.2,365.00 L404.7,365.04 L405.2,365.07 L405.7,365.10 L406.2,365.14 L406.7,365.18 L407.2,365.20 L407.7,365.19 L408.2,365.20 L408.7,365.25 L409.2,365.29 L409.7,365.31 L410.2,365.33 L410.7,365.34 L411.2,365.37 L411.7,365.40 L412.2,365.42 L412.7,365.45 L413.2,365.48 L413.7,365.50 L414.2,365.52 L414.7,365.55 L415.2,365.58 L415.7,365.60 L416.2,365.60 L416.7,365.62 L417.2,365.64 L417.7,365.67 L418.2,365.68 L418.7,365.69 L419.2,365.72 L419.7,365.73 L420.2,365.74 L420.7,365.75 L421.2,365.77 L421.7,365.78 L422.2,365.80 L422.7,365.82 L423.2,365.84 L423.7,365.85 L424.2,365.86 L424.7,365.86 L425.2,365.88 L425.7,365.89 L426.2,365.90 L426.7,365.91 L427.2,365.93 L427.7,365.94 L428.2,365.94 L428.7,365.95 L429.2,365.95 L429.7,365.96 L430.2,365.97 L430.7,365.98 L431.2,365.99 L431.7,366.00 L432.2,366.00 L432.7,366.01 L433.2,366.02 L433.7,366.02 L434.2,366.03 L434.7,366.03 L435.2,366.04 L435.7,366.04 L436.2,366.05 L436.7,366.05 L437.2,366.06 L437.7,366.06 L438.2,366.06 L438.7,366.07 L439.2,366.07 L439.7,366.07 L440.2,366.08 L440.7,366.08 L441.2,366.08 L441.7,366.08 L442.2,366.09 L442.7,366.09 L443.2,366.09 L443.7,366.09 L444.2,366.09 L444.7,366.09 L445.2,366.09 L445.7,366.09 L446.2,366.09 L446.7,366.09 L447.2,366.09 L447.7,366.09 L448.2,366.09 L448.7,366.09 L449.2,366.09 L449.7,366.09 L450.2,366.09 L450.7,366.09 L451.2,366.09 L451.7,366.09 L452.2,366.09 L452.7,366.09 L453.2,366.09 L453.7,366.08 L454.2,366.08 L454.7,366.08 L455.2,366.08 L455.7,366.08 L456.2,366.08 L456.7,366.07 L457.2,366.07 L457.7,366.07 L458.2,366.07 L458.7,366.07 L459.2,366.06 L459.7,366.06 L460.2,366.06 L460.7,366.06 L461.2,366.06 L461.7,366.05 L462.2,366.05 L462.7,366.05 L463.2,366.05 L463.7,366.04 L464.2,366.04 L464.7,366.04 L465.2,366.04 L465.7,366.04 L466.2,366.03 L466.7,366.03 L467.2,366.03 L467.7,366.03 L468.2,366.03 L468.7,366.02 L469.2,366.02 L469.7,366.02 L470.2,366.02 L470.7,366.02 L471.2,366.02 L471.7,366.01 L472.2,366.01 L472.7,366.01 L473.2,366.01 L473.7,366.01 L474.2,366.01 L474.7,366.01 L475.2,366.01 L475.7,366.01 L476.2,366.01 L476.7,366.01 L477.2,366.01 L477.7,366.01 L478.2,366.01 L478.7,366.01 L479.2,366.01 L479.7,366.01 L480.2,366.01 L480.7,366.01 L481.2,366.01 L481.7,366.01 L482.2,366.02 L482.7,366.02 L483.2,366.02 L483.7,366.02 L484.2,366.02 L484.7,366.03 L485.2,366.03 L485.7,366.03 L486.2,366.04 L486.7,366.04 L487.2,366.04 L487.7,366.05 L488.2,366.05 L488.7,366.06 L489.2,366.06 L489.7,366.07 L490.2,366.07 L490.7,366.08" fill="none" stroke="#1763a5" stroke-width="2.3" stroke-linejoin="round"/>
<path d="M75.7,365.96 L76.2,365.94 L76.7,365.92 L77.2,365.90 L77.7,365.88 L78.2,365.87 L78.7,365.86 L79.2,365.84 L79.7,365.83 L80.2,365.81 L80.7,365.79 L81.2,365.78 L81.7,365.78 L82.2,365.76 L82.7,365.74 L83.2,365.73 L83.7,365.73 L84.2,365.73 L84.7,365.71 L85.2,365.69 L85.7,365.69 L86.2,365.68 L86.7,365.67 L87.2,365.67 L87.7,365.66 L88.2,365.64 L88.7,365.63 L89.2,365.62 L89.7,365.60 L90.2,365.60 L90.7,365.59 L91.2,365.58 L91.7,365.57 L92.2,365.57 L92.7,365.56 L93.2,365.56 L93.7,365.56 L94.2,365.55 L94.7,365.53 L95.2,365.53 L95.7,365.52 L96.2,365.50 L96.7,365.50 L97.2,365.50 L97.7,365.49 L98.2,365.48 L98.7,365.47 L99.2,365.46 L99.7,365.43 L100.2,365.43 L100.7,365.44 L101.2,365.45 L101.7,365.44 L102.2,365.43 L102.7,365.41 L103.2,365.40 L103.7,365.39 L104.2,365.37 L104.7,365.35 L105.2,365.34 L105.7,365.33 L106.2,365.33 L106.7,365.31 L107.2,365.31 L107.7,365.31 L108.2,365.27 L108.7,365.26 L109.2,365.25 L109.7,365.22 L110.2,365.20 L110.7,365.20 L111.2,365.20 L111.7,365.18 L112.2,365.17 L112.7,365.16 L113.2,365.14 L113.7,365.10 L114.2,365.06 L114.7,365.01 L115.2,364.99 L115.7,364.98 L116.2,364.96 L116.7,364.97 L117.2,364.96 L117.7,364.90 L118.2,364.85 L118.7,364.85 L119.2,364.83 L119.7,364.79 L120.2,364.75 L120.7,364.72 L121.2,364.71 L121.7,364.69 L122.2,364.63 L122.7,364.60 L123.2,364.58 L123.7,364.54 L124.2,364.49 L124.7,364.47 L125.2,364.45 L125.7,364.40 L126.2,364.32 L126.7,364.24 L127.2,364.21 L127.7,364.20 L128.2,364.15 L128.7,364.12 L129.2,364.12 L129.7,364.08 L130.2,363.99 L130.7,363.91 L131.2,363.76 L131.7,363.69 L132.2,363.70 L132.7,363.66 L133.2,363.60 L133.7,363.54 L134.2,363.47 L134.7,363.41 L135.2,363.30 L135.7,363.20 L136.2,363.15 L136.7,363.14 L137.2,363.07 L137.7,362.93 L138.2,362.83 L138.7,362.76 L139.2,362.71 L139.7,362.68 L140.2,362.56 L140.7,362.42 L141.2,362.35 L141.7,362.26 L142.2,362.12 L142.7,362.05 L143.2,362.04 L143.7,361.93 L144.2,361.76 L144.7,361.62 L145.2,361.48 L145.7,361.37 L146.2,361.34 L146.7,361.25 L147.2,361.08 L147.7,360.90 L148.2,360.80 L148.7,360.76 L149.2,360.64 L149.7,360.50 L150.2,360.42 L150.7,360.31 L151.2,360.10 L151.7,359.93 L152.2,359.77 L152.7,359.67 L153.2,359.65 L153.7,359.56 L154.2,359.35 L154.7,359.12 L155.2,358.97 L155.7,358.89 L156.2,358.78 L156.7,358.64 L157.2,358.51 L157.7,358.48 L158.2,358.46 L158.7,358.34 L159.2,358.14 L159.7,357.92 L160.2,357.73 L160.7,357.57 L161.2,357.42 L161.7,357.22 L162.2,357.01 L162.7,356.89 L163.2,356.83 L163.7,356.70 L164.2,356.47 L164.7,356.26 L165.2,356.09 L165.7,355.98 L166.2,355.94 L166.7,355.79 L167.2,355.58 L167.7,355.35 L168.2,355.06 L168.7,354.92 L169.2,354.96 L169.7,354.89 L170.2,354.58 L170.7,354.38 L171.2,354.22 L171.7,353.94 L172.2,353.76 L172.7,353.75 L173.2,353.68 L173.7,353.60 L174.2,353.54 L174.7,353.34 L175.2,353.21 L175.7,353.22 L176.2,352.97 L176.7,352.54 L177.2,352.42 L177.7,352.36 L178.2,352.04 L178.7,351.78 L179.2,351.60 L179.7,351.43 L180.2,351.38 L180.7,351.44 L181.2,351.51 L181.7,351.36 L182.2,350.94 L182.7,350.58 L183.2,350.53 L183.7,350.50 L184.2,350.38 L184.7,350.12 L185.2,349.88 L185.7,349.75 L186.2,349.52 L186.7,349.45 L187.2,349.52 L187.7,349.52 L188.2,349.28 L188.7,348.90 L189.2,348.87 L189.7,348.88 L190.2,348.70 L190.7,348.51 L191.2,348.33 L191.7,348.30 L192.2,348.17 L192.7,347.85 L193.2,347.69 L193.7,347.61 L194.2,347.56 L194.7,347.57 L195.2,347.52 L195.7,347.48 L196.2,347.34 L196.7,347.04 L197.2,346.76 L197.7,346.53 L198.2,346.38 L198.7,346.35 L199.2,346.31 L199.7,346.17 L200.2,346.12 L200.7,346.04 L201.2,345.87 L201.7,345.87 L202.2,346.03 L202.7,345.90 L203.2,345.51 L203.7,345.31 L204.2,345.23 L204.7,345.27 L205.2,345.38 L205.7,345.34 L206.2,345.31 L206.7,345.17 L207.2,344.82 L207.7,344.63 L208.2,344.67 L208.7,344.67 L209.2,344.55 L209.7,344.54 L210.2,344.60 L210.7,344.51 L211.2,344.24 L211.7,343.88 L212.2,343.81 L212.7,344.04 L213.2,343.97 L213.7,343.69 L214.2,343.59 L214.7,343.49 L215.2,343.40 L215.7,343.47 L216.2,343.45 L216.7,343.48 L217.2,343.57 L217.7,343.54 L218.2,343.52 L218.7,343.49 L219.2,343.39 L219.7,343.48 L220.2,343.58 L220.7,343.52 L221.2,343.42 L221.7,343.28 L222.2,343.28 L222.7,343.24 L223.2,342.90 L223.7,342.86 L224.2,343.15 L224.7,343.07 L225.2,342.98 L225.7,343.16 L226.2,343.26 L226.7,343.26 L227.2,343.12 L227.7,343.09 L228.2,343.24 L228.7,343.26 L229.2,343.35 L229.7,343.57 L230.2,343.62 L230.7,343.48 L231.2,343.40 L231.7,343.33 L232.2,343.22 L232.7,343.29 L233.2,343.37 L233.7,343.48 L234.2,343.69 L234.7,343.92 L235.2,344.22 L235.7,344.15 L236.2,343.85 L236.7,343.88 L237.2,344.05 L237.7,344.23 L238.2,344.42 L238.7,344.53 L239.2,344.60 L239.7,344.62 L240.2,344.41 L240.7,344.19 L241.2,344.33 L241.7,344.58 L242.2,344.70 L242.7,344.93 L243.2,345.23 L243.7,345.36 L244.2,345.41 L244.7,345.51 L245.2,345.57 L245.7,345.52 L246.2,345.53 L246.7,345.60 L247.2,345.89 L247.7,346.05 L248.2,345.83 L248.7,345.88 L249.2,346.16 L249.7,346.19 L250.2,346.27 L250.7,346.56 L251.2,346.77 L251.7,346.90 L252.2,346.85 L252.7,346.73 L253.2,346.95 L253.7,347.16 L254.2,347.07 L254.7,347.18 L255.2,347.51 L255.7,347.73 L256.2,347.68 L256.7,347.70 L257.2,347.96 L257.7,348.01 L258.2,347.99 L258.7,348.08 L259.2,348.10 L259.7,348.13 L260.2,348.37 L260.7,348.55 L261.2,348.35 L261.7,348.33 L262.2,348.72 L262.7,349.01 L263.2,349.20 L263.7,349.30 L264.2,349.21 L264.7,349.28 L265.2,349.52 L265.7,349.71 L266.2,349.72 L266.7,349.54 L267.2,349.52 L267.7,349.64 L268.2,349.81 L268.7,350.06 L269.2,350.14 L269.7,350.12 L270.2,350.29 L270.7,350.57 L271.2,350.62 L271.7,350.62 L272.2,350.75 L272.7,350.86 L273.2,351.03 L273.7,351.16 L274.2,351.15 L274.7,351.24 L275.2,351.41 L275.7,351.54 L276.2,351.58 L276.7,351.54 L277.2,351.58 L277.7,351.66 L278.2,351.75 L278.7,351.92 L279.2,352.06 L279.7,352.11 L280.2,352.10 L280.7,352.09 L281.2,352.26 L281.7,352.49 L282.2,352.54 L282.7,352.48 L283.2,352.49 L283.7,352.50 L284.2,352.58 L284.7,352.90 L285.2,353.09 L285.7,353.04 L286.2,353.01 L286.7,353.14 L287.2,353.38 L287.7,353.50 L288.2,353.64 L288.7,353.81 L289.2,353.75 L289.7,353.59 L290.2,353.63 L290.7,353.76 L291.2,353.80 L291.7,353.78 L292.2,353.87 L292.7,354.09 L293.2,354.30 L293.7,354.45 L294.2,354.59 L294.7,354.64 L295.2,354.51 L295.7,354.56 L296.2,354.79 L296.7,354.86 L297.2,354.93 L297.7,355.15 L298.2,355.35 L298.7,355.38 L299.2,355.33 L299.7,355.37 L300.2,355.48 L300.7,355.59 L301.2,355.68 L301.7,355.70 L302.2,355.67 L302.7,355.69 L303.2,355.94 L303.7,356.15 L304.2,356.16 L304.7,356.14 L305.2,356.08 L305.7,356.10 L306.2,356.21 L306.7,356.40 L307.2,356.48 L307.7,356.43 L308.2,356.47 L308.7,356.71 L309.2,356.94 L309.7,356.93 L310.2,356.92 L310.7,357.02 L311.2,357.07 L311.7,357.05 L312.2,357.04 L312.7,357.20 L313.2,357.42 L313.7,357.45 L314.2,357.38 L314.7,357.39 L315.2,357.53 L315.7,357.62 L316.2,357.70 L316.7,357.80 L317.2,357.83 L317.7,357.90 L318.2,358.04 L318.7,358.13 L319.2,358.18 L319.7,358.17 L320.2,358.20 L320.7,358.32 L321.2,358.43 L321.7,358.52 L322.2,358.55 L322.7,358.57 L323.2,358.65 L323.7,358.68 L324.2,358.66 L324.7,358.72 L325.2,358.86 L325.7,358.96 L326.2,359.01 L326.7,359.04 L327.2,359.03 L327.7,359.13 L328.2,359.26 L328.7,359.31 L329.2,359.32 L329.7,359.28 L330.2,359.37 L330.7,359.50 L331.2,359.49 L331.7,359.52 L332.2,359.58 L332.7,359.62 L333.2,359.77 L333.7,359.90 L334.2,359.94 L334.7,359.92 L335.2,359.90 L335.7,359.97 L336.2,360.07 L336.7,360.17 L337.2,360.22 L337.7,360.29 L338.2,360.39 L338.7,360.40 L339.2,360.33 L339.7,360.41 L340.2,360.57 L340.7,360.62 L341.2,360.61 L341.7,360.64 L342.2,360.72 L342.7,360.77 L343.2,360.78 L343.7,360.80 L344.2,360.84 L344.7,360.97 L345.2,361.07 L345.7,361.09 L346.2,361.20 L346.7,361.30 L347.2,361.34 L347.7,361.39 L348.2,361.41 L348.7,361.44 L349.2,361.42 L349.7,361.41 L350.2,361.54 L350.7,361.64 L351.2,361.63 L351.7,361.63 L352.2,361.63 L352.7,361.68 L353.2,361.78 L353.7,361.84 L354.2,361.92 L354.7,361.96 L355.2,361.92 L355.7,361.95 L356.2,362.08 L356.7,362.19 L357.2,362.16 L357.7,362.16 L358.2,362.27 L358.7,362.35 L359.2,362.32 L359.7,362.32 L360.2,362.40 L360.7,362.51 L361.2,362.55 L361.7,362.47 L362.2,362.46 L362.7,362.57 L363.2,362.61 L363.7,362.58 L364.2,362.66 L364.7,362.76 L365.2,362.80 L365.7,362.84 L366.2,362.89 L366.7,362.94 L367.2,362.98 L367.7,363.02 L368.2,363.06 L368.7,363.06 L369.2,363.11 L369.7,363.16 L370.2,363.16 L370.7,363.17 L371.2,363.19 L371.7,363.26 L372.2,363.37 L372.7,363.43 L373.2,363.47 L373.7,363.47 L374.2,363.46 L374.7,363.48 L375.2,363.52 L375.7,363.57 L376.2,363.60 L376.7,363.61 L377.2,363.65 L377.7,363.70 L378.2,363.72 L378.7,363.75 L379.2,363.81 L379.7,363.84 L380.2,363.86 L380.7,363.87 L381.2,363.91 L381.7,363.95 L382.2,363.96 L382.7,363.96 L383.2,364.02 L383.7,364.08 L384.2,364.10 L384.7,364.12 L385.2,364.17 L385.7,364.22 L386.2,364.26 L386.7,364.29 L387.2,364.29 L387.7,364.31 L388.2,364.34 L388.7,364.39 L389.2,364.43 L389.7,364.45 L390.2,364.46 L390.7,364.47 L391.2,364.49 L391.7,364.53 L392.2,364.60 L392.7,364.61 L393.2,364.55 L393.7,364.57 L394.2,364.65 L394.7,364.68 L395.2,364.70 L395.7,364.71 L396.2,364.74 L396.7,364.78 L397.2,364.81 L397.7,364.85 L398.2,364.87 L398.7,364.89 L399.2,364.92 L399.7,364.95 L400.2,364.95 L400.7,364.94 L401.2,364.96 L401.7,365.02 L402.2,365.03 L402.7,365.05 L403.2,365.08 L403.7,365.10 L404.2,365.12 L404.7,365.13 L405.2,365.16 L405.7,365.20 L406.2,365.22 L406.7,365.25 L407.2,365.29 L407.7,365.31 L408.2,365.31 L408.7,365.30 L409.2,365.32 L409.7,365.36 L410.2,365.40 L410.7,365.41 L411.2,365.42 L411.7,365.44 L412.2,365.47 L412.7,365.49 L413.2,365.51 L413.7,365.53 L414.2,365.55 L414.7,365.57 L415.2,365.58 L415.7,365.60 L416.2,365.62 L416.7,365.63 L417.2,365.65 L417.7,365.66 L418.2,365.68 L418.7,365.70 L419.2,365.71 L419.7,365.72 L420.2,365.74 L420.7,365.75 L421.2,365.77 L421.7,365.79 L422.2,365.81 L422.7,365.83 L423.2,365.84 L423.7,365.86 L424.2,365.88 L424.7,365.90 L425.2,365.90 L425.7,365.91 L426.2,365.93 L426.7,365.95 L427.2,365.96 L427.7,365.97 L428.2,365.98 L428.7,366.00 L429.2,366.01 L429.7,366.03 L430.2,366.04 L430.7,366.05 L431.2,366.06 L431.7,366.08 L432.2,366.09 L432.7,366.10 L433.2,366.11 L433.7,366.13 L434.2,366.14 L434.7,366.15 L435.2,366.16 L435.7,366.17 L436.2,366.18 L436.7,366.19 L437.2,366.20 L437.7,366.22 L438.2,366.23 L438.7,366.24 L439.2,366.25 L439.7,366.26 L440.2,366.27 L440.7,366.28 L441.2,366.29 L441.7,366.30 L442.2,366.31 L442.7,366.31 L443.2,366.32 L443.7,366.33 L444.2,366.34 L444.7,366.35 L445.2,366.36 L445.7,366.37 L446.2,366.38 L446.7,366.38 L447.2,366.39 L447.7,366.40 L448.2,366.41 L448.7,366.41 L449.2,366.42 L449.7,366.43 L450.2,366.44 L450.7,366.44 L451.2,366.45 L451.7,366.46 L452.2,366.46 L452.7,366.47 L453.2,366.48 L453.7,366.48 L454.2,366.49 L454.7,366.50 L455.2,366.50 L455.7,366.51 L456.2,366.51 L456.7,366.52 L457.2,366.52 L457.7,366.53 L458.2,366.53 L458.7,366.54 L459.2,366.54 L459.7,366.55 L460.2,366.55 L460.7,366.56 L461.2,366.56 L461.7,366.57 L462.2,366.57 L462.7,366.58 L463.2,366.58 L463.7,366.58 L464.2,366.59 L464.7,366.59 L465.2,366.59 L465.7,366.60 L466.2,366.60 L466.7,366.60 L467.2,366.61 L467.7,366.61 L468.2,366.61 L468.7,366.61 L469.2,366.62 L469.7,366.62 L470.2,366.62 L470.7,366.62 L471.2,366.63 L471.7,366.63 L472.2,366.63 L472.7,366.63 L473.2,366.63 L473.7,366.64 L474.2,366.64 L474.7,366.64 L475.2,366.64 L475.7,366.64 L476.2,366.64 L476.7,366.64 L477.2,366.64 L477.7,366.65 L478.2,366.65 L478.7,366.65 L479.2,366.65 L479.7,366.65 L480.2,366.65 L480.7,366.65 L481.2,366.65 L481.7,366.65 L482.2,366.65 L482.7,366.65 L483.2,366.65 L483.7,366.65 L484.2,366.65 L484.7,366.65 L485.2,366.65 L485.7,366.65 L486.2,366.64 L486.7,366.64 L487.2,366.64 L487.7,366.64 L488.2,366.64 L488.7,366.64 L489.2,366.64 L489.7,366.64 L490.2,366.63 L490.7,366.63" fill="none" stroke="#5f9e30" stroke-width="2.3" stroke-linejoin="round"/>
<g font-family="'Liberation Serif', serif" font-weight="bold" font-size="16" fill="#000">
<text x="61.4" y="372.9" text-anchor="end">0</text>
<text x="61.4" y="314.1" text-anchor="end">200</text>
<text x="61.4" y="255.3" text-anchor="end">400</text>
<text x="61.4" y="196.4" text-anchor="end">600</text>
<text x="61.4" y="137.6" text-anchor="end">800</text>
<text x="61.4" y="78.8" text-anchor="end">1000</text>
<text x="61.4" y="20.0" text-anchor="end">1200</text>
<text x="75.4" y="391.9" text-anchor="middle">380</text>
<text x="170.2" y="391.9" text-anchor="middle">430</text>
<text x="264.9" y="391.9" text-anchor="middle">480</text>
<text x="359.7" y="391.9" text-anchor="middle">530</text>
<text x="454.5" y="391.9" text-anchor="middle">580</text>
<text x="259.6" y="420.8" text-anchor="middle">Wavelength (nm)</text>
<text transform="translate(20.8,172.6) rotate(-90)" text-anchor="middle">Emission intensity (a.u. )</text>
</g>
<g font-family="'Liberation Serif', serif" font-weight="bold" font-size="12" fill="#000">
<line x1="502.6" y1="143.2" x2="524.6" y2="143.2" stroke="#1572b8" stroke-width="1.95" stroke-dasharray="6.2 1.7"/>
<text x="528.7" y="147.2">5a</text>
<line x1="502.6" y1="155.8" x2="524.6" y2="155.8" stroke="#c8242b" stroke-width="1.95" stroke-dasharray="6.2 1.7"/>
<text x="528.7" y="159.8">5b</text>
<line x1="502.6" y1="168.4" x2="524.6" y2="168.4" stroke="#6aa52f" stroke-width="1.95" stroke-dasharray="6.2 1.7"/>
<text x="528.7" y="172.4">5c</text>
<line x1="502.6" y1="180.9" x2="524.6" y2="180.9" stroke="#6b3fa0" stroke-width="1.95" stroke-dasharray="6.2 1.7"/>
<text x="528.7" y="184.9">5d</text>
<line x1="502.8" y1="193.4" x2="526.7" y2="193.4" stroke="#7f7f7f" stroke-width="2.05"/>
<text x="528.7" y="197.4">5e</text>
<line x1="502.8" y1="205.9" x2="526.7" y2="205.9" stroke="#f5821f" stroke-width="2.05"/>
<text x="528.7" y="209.9">5f</text>
<line x1="502.8" y1="218.4" x2="526.7" y2="218.4" stroke="#000000" stroke-width="2.05"/>
<text x="528.7" y="222.4">5g</text>
<line x1="502.8" y1="231" x2="526.7" y2="231" stroke="#1763a5" stroke-width="2.05"/>
<text x="528.7" y="235.0">6d</text>
<line x1="502.8" y1="243.6" x2="526.7" y2="243.6" stroke="#5f9e30" stroke-width="2.05"/>
<text x="528.7" y="247.6">7d</text>
</g>
</svg>
</body></html>
